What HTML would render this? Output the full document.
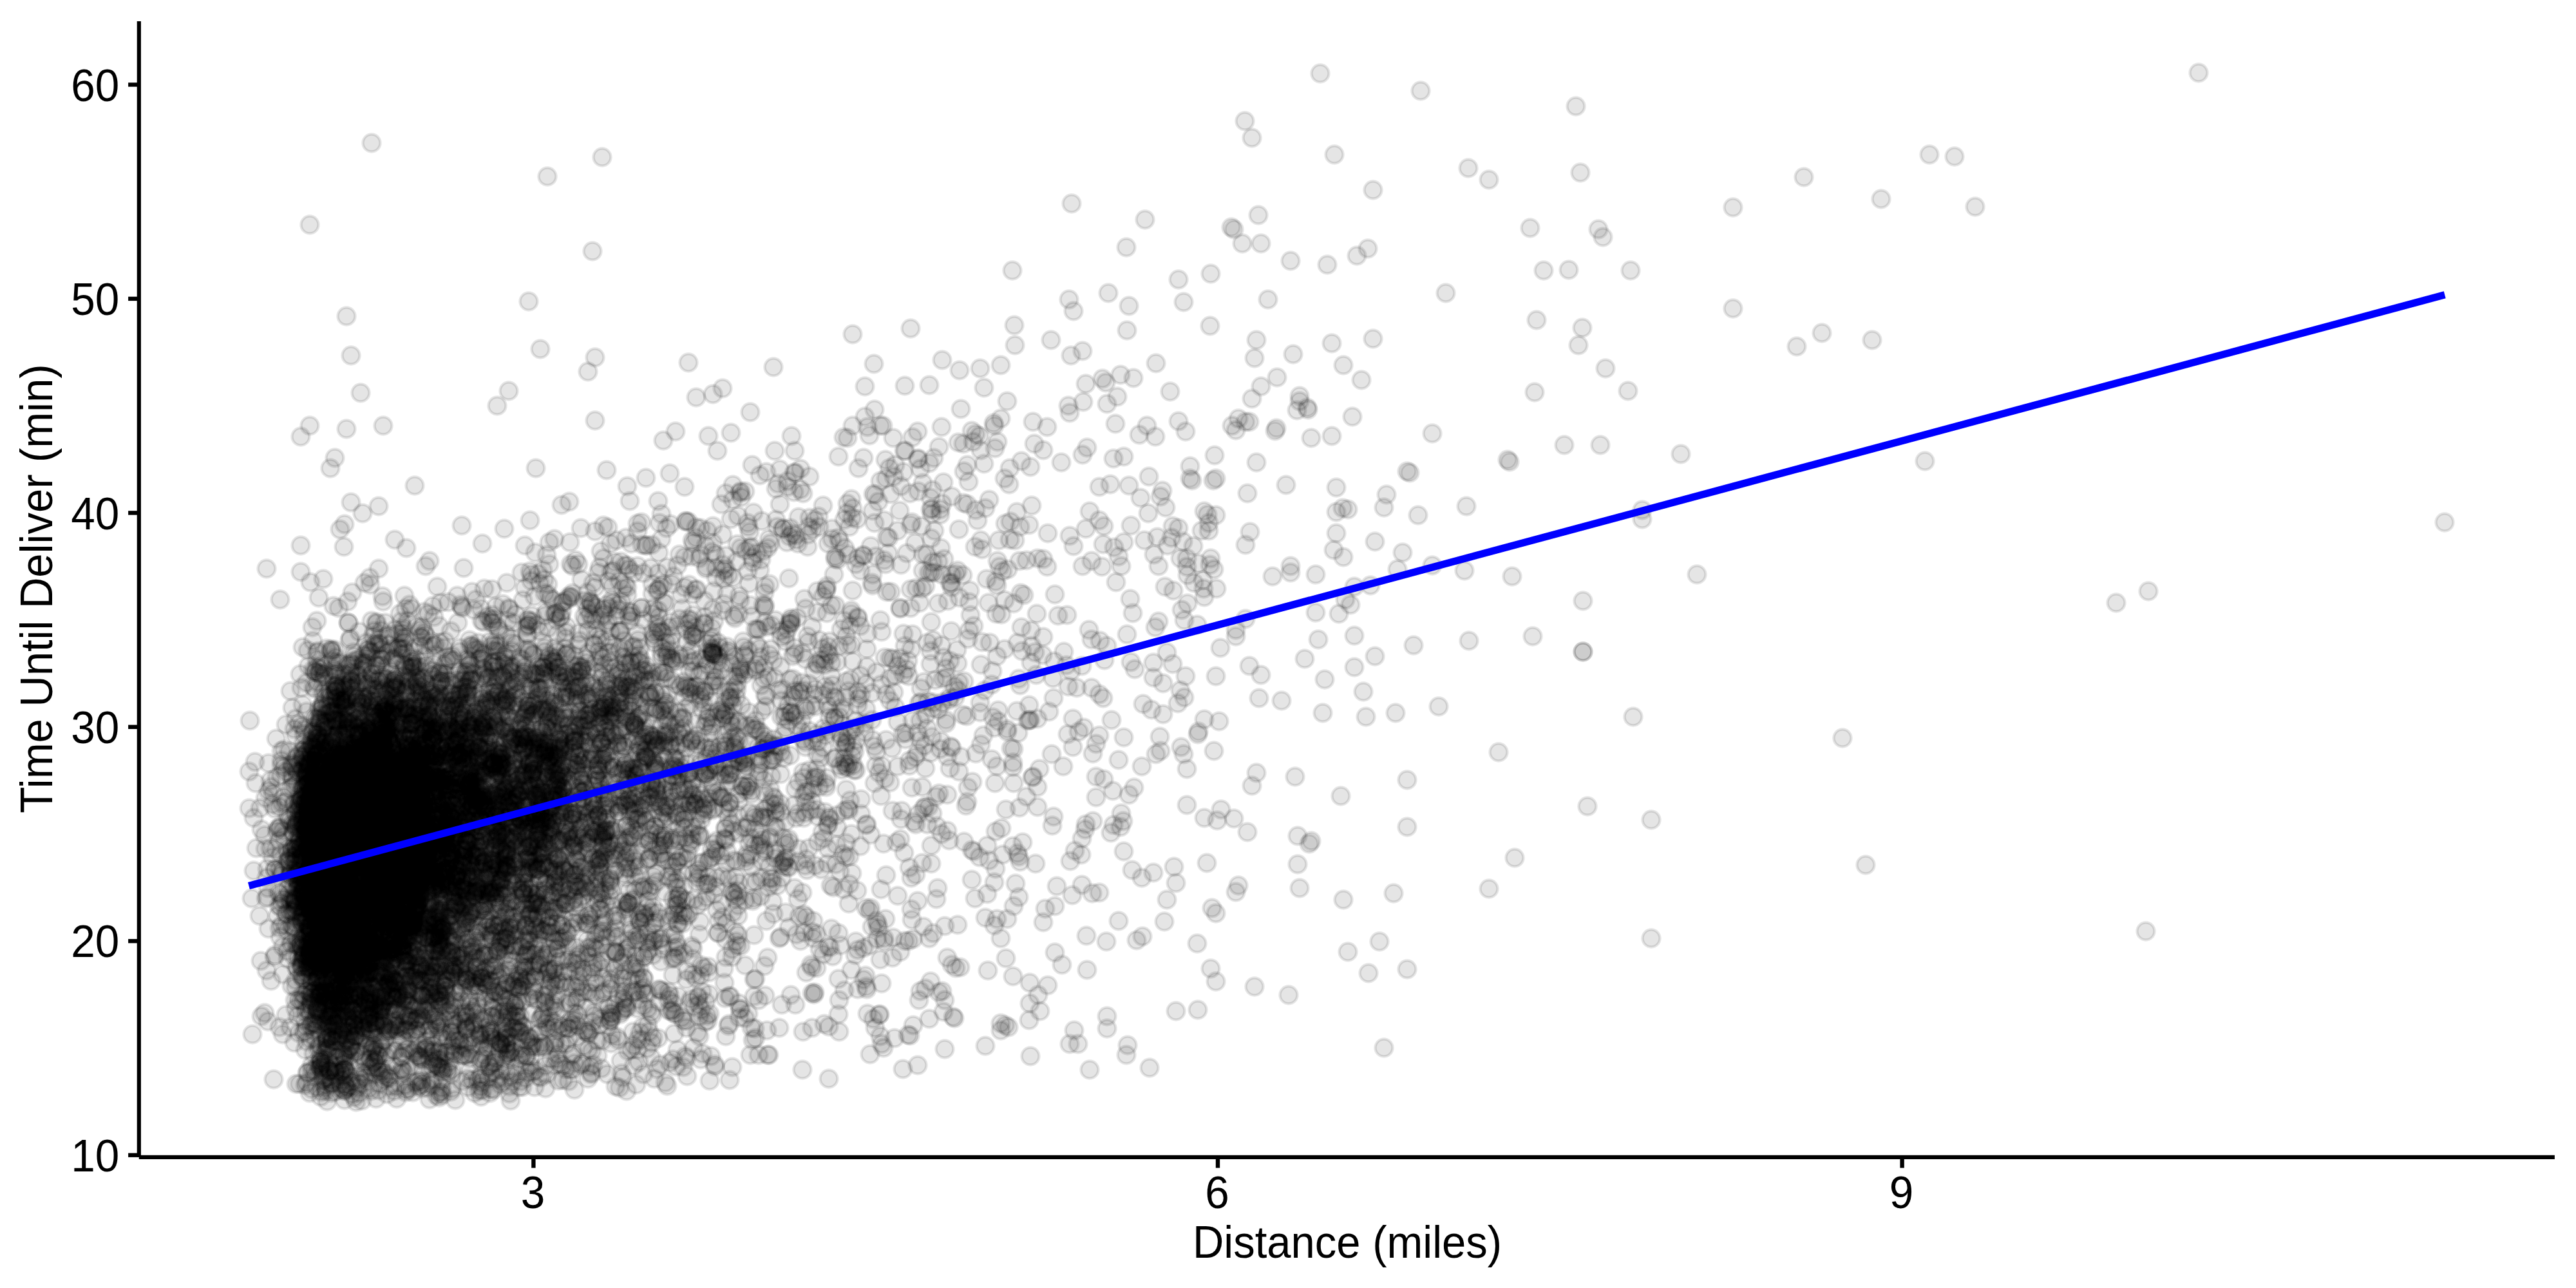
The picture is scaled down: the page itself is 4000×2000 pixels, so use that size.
<!DOCTYPE html><html><head><meta charset="utf-8"><title>Delivery time vs distance</title>
<style>html,body{margin:0;padding:0;background:#fff;overflow:hidden}svg{display:block}text{font-family:"Liberation Sans",Arial,Helvetica,sans-serif;fill:#000}.t{font-size:67.50px}.l{font-size:67.00px}</style></head><body>
<svg width="4000" height="2000" viewBox="0 0 4000 2000">
<rect width="4000" height="2000" fill="#fff"/>
<defs><marker id="m" markerUnits="userSpaceOnUse" markerWidth="40" markerHeight="40" refX="20" refY="20" overflow="visible" orient="0"><circle cx="20" cy="20" r="13.5" fill="#000" fill-opacity="0.1" stroke="#000" stroke-opacity="0.1" stroke-width="4.4"/></marker></defs>
<polyline fill="none" stroke="none" marker-start="url(#m)" marker-mid="url(#m)" marker-end="url(#m)" points="503,1233 956,1111 709,1164 506,1631 643,1508 861,1173 512,1236 604,1254 663,1259 620,1375 712,1282 865,1175 1530,789 767,1141 816,1301 568,1514 416,1586 1729,712 570,1216 575,1246 1179,1313 711,1172 639,1296 913,1118 477,1666 828,1403 597,1183 504,1530 779,1622 1359,768 750,1248 570,1224 870,1305 846,1308 544,1420 1009,1141 776,1350 802,1407 990,1630 620,1351 892,1352 1133,1191 508,1388 1053,1263 605,1123 643,1183 522,1064 819,1253 568,1459 1110,1656 562,1253 693,1292 607,1237 735,1470 532,1465 876,1509 883,1247 697,1383 1304,1353 540,1538 1056,1156 529,1474 1610,953 744,1177 729,1201 1687,1453 933,1103 938,1092 490,1243 542,1133 1075,1285 516,1239 570,1480 650,1247 1052,1470 1620,989 829,1338 681,1078 827,1150 489,1304 799,1532 595,934 715,1412 788,1269 788,1089 667,1318 688,1561 538,1349 651,1541 516,1128 675,1406 914,1109 605,1536 469,1490 670,1212 540,1506 869,1394 603,1278 600,1338 1250,1344 588,1210 644,1116 682,1284 1306,1153 694,1297 872,1343 1457,937 1035,1053 873,1222 977,884 990,825 555,1287 645,1321 586,1658 558,1415 700,1311 740,1262 709,1137 509,1293 626,1107 603,1433 828,1331 503,1383 661,1377 784,1130 582,1277 1361,1044 522,1223 564,1394 584,1077 675,1375 1390,1098 614,1359 787,1176 1154,1174 521,1312 676,1365 1142,1362 490,1351 714,1276 905,1229 1394,824 677,1283 454,1099 495,1116 614,1094 1047,1189 788,1107 610,1063 825,1293 574,1508 596,1475 901,1116 651,1272 929,1295 663,1228 526,1538 1115,1104 695,1281 1615,1570 411,1297 585,1312 907,1128 805,1234 692,1341 782,1614 1127,863 803,1029 683,1059 693,1208 785,1326 579,1064 788,1367 736,1601 932,1342 644,1192 475,1447 676,1298 1073,1068 759,1386 763,1192 604,1130 591,1149 842,1577 500,1199 1097,880 1126,1286 1590,924 1187,921 600,1305 778,1193 647,1171 779,1234 844,1046 460,1683 973,1566 622,1064 623,1425 693,1393 564,1028 1161,812 679,1162 528,1571 737,1129 1218,1113 1147,1558 518,1477 745,1145 1182,1363 538,1255 614,1428 835,1317 865,1218 630,1556 758,1674 788,1112 589,1447 771,1359 705,1565 817,1203 660,1263 583,1233 622,1088 1311,1538 534,1234 522,1617 460,1423 1059,1396 550,1388 559,1159 538,1591 724,1213 646,1379 991,1132 541,967 1132,1083 636,1388 968,1552 958,1049 1255,830 653,1204 732,1054 692,1086 535,1088 655,1293 1332,867 1247,1148 471,1267 782,1410 519,1442 520,1171 946,1289 1557,1327 665,953 601,1088 659,1261 1008,1077 876,1165 494,1381 542,1371 1100,1501 650,1341 776,1472 919,937 756,1089 860,1221 681,1386 547,1248 534,1636 457,1619 810,1275 1140,1050 548,1581 488,1556 607,1327 581,1297 635,1065 1422,1358 514,1215 1435,1059 486,1040 1398,1478 851,1271 432,1386 628,1522 797,1441 749,1243 965,934 735,1262 476,1494 1021,1218 553,1194 545,1260 770,1506 487,1325 572,1495 856,1273 717,1297 1226,1055 821,1331 569,1350 579,1363 515,1194 727,1364 856,1218 959,1421 1550,1103 502,1283 497,1302 893,1573 652,1178 618,1283 753,1581 894,1152 1583,1254 1546,903 638,1252 713,1123 540,1161 674,1454 1228,960 657,1129 1003,1276 532,1509 1150,1469 515,1011 542,1193 843,885 571,1626 514,1173 943,1316 469,1458 491,1374 1445,1011 926,1139 596,1395 1099,1258 934,1279 787,1346 671,1241 668,1114 1805,762 667,1280 720,1327 858,1274 748,1351 871,1208 596,1200 597,1097 560,1401 1018,1160 522,1307 836,1241 1745,842 1186,1258 650,1239 702,1348 587,1074 716,1279 797,1335 980,1630 552,1160 764,1193 492,1187 495,1568 513,1435 925,963 596,1462 650,1428 630,1303 540,1121 486,1271 1074,1234 584,1304 616,1488 869,1117 823,1340 601,1699 657,1146 606,1350 702,1326 718,1423 705,1511 1216,1301 1480,1579 489,1406 599,1193 597,1456 959,1153 798,1306 697,1211 503,1422 974,912 734,1526 572,1113 931,1234 483,1542 534,1314 937,1178 486,1336"/>
<polyline fill="none" stroke="none" marker-start="url(#m)" marker-mid="url(#m)" marker-end="url(#m)" points="518,1142 655,1274 832,1662 714,1168 481,1503 562,1359 827,1046 536,1152 425,1676 558,1273 1355,909 488,1662 687,1677 1251,1262 821,1665 768,1448 514,1203 653,1197 558,1217 1124,1504 1095,1587 896,1369 598,1469 949,1620 1843,1250 668,1169 510,1242 843,1036 725,1083 512,1578 788,1330 885,1380 1415,1412 603,1387 603,1251 607,1480 827,1110 934,1659 513,1379 491,1316 549,1398 860,1329 1389,1612 1853,848 496,1449 608,1153 1114,1305 656,1080 926,1359 1091,1201 663,1385 532,1310 672,1423 555,1417 963,1100 594,1104 749,1259 495,1307 533,1662 517,1212 644,1264 437,1437 937,1322 483,1463 1629,1105 663,1176 1344,1515 1199,1364 860,1230 477,1257 763,1128 457,1398 1040,1256 573,1335 877,1403 671,1358 929,1197 759,1377 1719,1578 641,1285 1061,1585 993,1192 712,1518 657,1275 620,1282 765,1336 537,1083 624,1239 766,1114 573,1183 543,1198 510,1308 962,1040 1125,1526 1017,1283 828,1501 727,1688 1141,1396 640,1407 806,1050 875,1252 1549,686 832,1259 672,1145 772,1238 548,1470 653,1395 503,1480 564,1229 566,1553 494,1218 474,1572 851,1206 514,1452 614,1083 772,1057 1001,1543 635,1332 1058,923 974,755 1053,1435 582,1365 637,1484 526,1314 711,1186 484,1172 638,1113 642,1385 416,1379 617,1525 619,1124 678,1317 653,1231 571,1336 612,1070 786,1469 572,1008 835,1350 936,1099 463,1487 543,1440 565,1595 717,1318 647,1260 698,1649 498,1422 526,1478 875,1491 803,1435 1126,1203 467,1500 597,1677 787,905 1450,711 659,1219 721,1170 466,1265 986,1361 578,1533 508,1418 1006,1380 1237,838 533,1118 1080,916 581,1260 523,1209 623,1304 540,1472 533,1209 562,1207 1131,1219 481,1412 1311,1177 629,1216 865,1334 660,1089 1445,1031 532,1467 658,1220 658,1287 581,1444 573,1511 504,1357 655,990 1010,1084 1098,824 1837,841 1641,1376 577,1097 513,1169 1021,1313 1414,915 1611,867 642,1203 667,1310 498,1205 1322,948 509,1546 519,1353 479,1440 652,1349 726,1307 673,1031 1135,1113 800,1477 756,1091 726,1076 657,1437 507,1674 763,1178 542,1287 614,1200 766,1029 723,1404 560,1547 520,1288 781,1051 843,1137 517,1192 561,1396 522,1446 734,1569 1107,946 559,1417 763,1579 756,1439 1421,843 846,1006 1367,1490 710,1486 434,1253 580,1421 868,1147 586,1410 777,1132 513,1610 766,1303 602,1428 1449,1449 497,1288 904,1301 604,1109 635,1301 578,1309 1128,1433 904,1118 574,1138 787,1664 944,1245 949,1334 491,1163 527,1109 1530,1425 564,1279 920,1169 750,1253 1114,1230 500,1286 1373,870 1125,1165 550,1398 833,1178 446,1266 1094,1074 613,1328 868,1228 946,1211 475,1422 1145,1383 509,1283 632,1498 555,1337 767,1190 535,1660 744,1282 896,1610 1602,785 566,1343 705,1310 770,1300 1314,1058 711,1197 570,1455 849,1277 757,1627 497,1534 570,1344 651,1348 526,1498 671,1320 778,1321 585,1241 1018,1223 508,1542 492,1286 829,1439 694,1571 883,1192 1377,834 660,1364 984,1060 767,1206 662,1161 656,1228 641,1407 759,1513 493,1352 771,1290 482,1255 599,1311 626,1323 696,1158 700,1518 726,1185 473,1584 865,1386 615,1401 1002,1425 680,1645 699,1076 795,998 437,1402 514,1495 504,1350 540,1383 470,1495 523,1029 641,1560 1145,1265 641,1392 553,1261 568,1129 617,1294 573,1468 639,1380 613,1310 501,1668 1120,1041 1667,848 693,1634 1247,1602 600,1281 556,1352 1345,1062 812,1025 571,1247 595,1392 791,1245 1474,1083 485,1217 1048,1488 1052,1434 544,1548 1810,788 1126,1111 846,1102 510,1321 628,1233 890,1311 687,1145 492,1371 899,1322 612,1097 545,1188 587,1489 509,1575 592,1377 465,1318 584,1172 571,1435 634,1628 584,1292 1163,1106 534,1169 604,1597 583,1144 501,1372 1016,986 871,1457 1140,1336 544,1276 577,1531 695,1493 1104,1640 1066,1585 647,1233 697,1134 960,1261 1360,1189 1089,1273 549,1511 749,1207 858,1027 767,1507 498,1507 545,1079 646,1412 864,1358 704,1025 1234,1006"/>
<polyline fill="none" stroke="none" marker-start="url(#m)" marker-mid="url(#m)" marker-end="url(#m)" points="649,1563 629,1180 1507,955 791,946 1854,905 1377,919 502,1334 726,1319 647,1403 886,1144 778,1184 733,1250 597,1429 516,1521 805,1225 487,1324 584,1033 554,1318 740,1324 803,1669 829,1183 612,1460 886,1316 779,1169 674,1235 921,1101 1702,1155 644,1234 1582,1054 744,1607 602,1314 642,1364 774,1225 576,1543 1313,1190 602,1172 745,1380 1078,1563 1008,1602 792,1044 836,1145 890,1265 712,1294 621,1317 1204,1250 526,1280 517,1363 575,1151 549,1589 1732,658 672,1510 1154,1186 686,1347 544,1451 1122,948 1145,1061 903,900 698,1366 532,1393 860,1092 534,1415 730,1254 673,1180 672,1307 533,1258 1000,1520 678,1499 809,1133 748,1343 578,1166 863,1215 606,1571 1311,807 536,1285 636,1107 605,1153 1489,822 573,1690 1171,1521 474,1483 518,1185 869,1260 725,1360 614,1599 1033,1111 544,1330 934,1226 597,1385 812,1362 983,1120 620,1330 536,1086 551,1424 553,1320 619,1145 764,1564 602,1295 1533,1388 1406,700 918,1666 943,1070 575,1493 891,1152 490,1280 469,1472 577,1140 851,1150 478,1252 601,1368 720,1331 1045,1205 694,1425 553,1219 503,1441 657,1429 965,1130 1013,1054 741,1101 532,1378 499,1503 561,1092 674,1426 741,1562 576,1262 938,1239 672,1472 904,1036 556,1334 699,1316 1161,1222 466,1467 1368,1381 716,1510 648,1267 803,1257 718,1210 742,1383 1091,1636 840,1102 627,1444 1264,1078 1465,1021 626,1237 591,1160 1212,980 1417,679 912,1361 1228,1107 1463,1539 646,1370 492,1157 624,1469 544,1422 849,1177 733,1481 1386,1023 809,1227 554,1337 654,1522 675,1368 1414,944 753,1218 580,1187 562,1414 704,1161 502,1216 633,1156 1195,1302 1288,1017 692,1442 681,1250 582,1560 714,1080 632,1494 768,1539 1503,1223 887,1264 519,1268 530,1261 810,1629 1745,709 722,1493 1026,1493 552,1610 1130,1013 629,1399 982,1446 762,1297 924,825 714,1295 802,1578 1426,763 620,1436 863,1188 1568,838 484,1447 555,1267 591,1245 702,1690 1425,1399 535,1276 573,1482 719,1177 1418,1592 893,1144 503,1281 937,816 663,1180 543,1606 530,1172 673,1280 1153,1221 541,1114 646,1333 1523,1032 593,1234 1107,817 679,1175 630,1414 898,1042 669,1678 480,1223 668,1349 507,1356 701,1376 1361,1167 689,1393 1584,1338 577,1131 542,1304 912,1308 1020,1660 481,1228 1318,1258 912,945 646,1301 599,1296 1437,1252 493,1440 788,1449 1271,802 517,1407 899,1174 903,1042 539,1389 665,1407 701,1129 491,1389 1442,1253 518,1589 824,1091 654,1168 931,1159 763,1385 506,1289 1826,1570 533,1462 1162,1279 502,1440 1082,1162 518,1423 804,1269 974,924 630,991 572,1457 799,1305 677,1389 614,1319 910,1059 725,1520 925,1345 478,1307 417,1185 937,946 978,1067 835,1297 473,1410 1471,1175 691,1538 1697,1170 1662,1337 845,1626 984,1541 1058,1249 1269,951 883,1679 496,1571 756,1595 682,1457 1707,756 550,1155 477,1374 1187,1323 736,1392 553,1389 704,1215 767,1068 582,1150 468,1242 823,1626 708,1151 501,1662 655,1678 613,1059 860,1353 727,1555 902,1105 555,1459 770,1264 568,1565 752,1249 703,1157 725,1356 1044,1303 977,1349 1844,893 546,1491 787,1527 522,1270 427,1256 630,1095 757,1399 1165,640 1027,1300 1300,1285 1115,1448 1109,1310 880,1050 524,1118 703,1104 628,1427 800,1283 1319,818 565,1375 633,1411 529,1396 1293,1485 1201,1419 1478,1498 544,1247 582,1553 1265,1541 1139,1291 512,1221 637,1432 491,1381 1007,1099 1031,1262 1403,1047 977,1325 617,1164 598,1569 777,1178 1569,810 637,1179 633,1431 1756,816 558,1697 499,1305 1332,960 666,1488 1179,1199 1260,1095 541,1199 1140,1389 1534,1507 680,1284 853,1340 469,1422 649,1679 501,1095 517,1287 491,1519 675,1500 703,1271 620,1308 838,1583 502,1052 548,1165 658,1116 939,1131 1213,989 538,1392 555,1326 904,1210 451,1073 619,1233 568,1198 673,1476 505,1259 524,1474 1587,1011 694,1161 1298,1342 1511,686 725,1272 1270,1268 616,1213 570,1203 974,1409"/>
<polyline fill="none" stroke="none" marker-start="url(#m)" marker-mid="url(#m)" marker-end="url(#m)" points="1547,953 1206,1285 846,1206 1189,1097 586,1549 720,1252 473,1520 507,1454 555,1342 506,1474 555,1308 508,1096 570,1084 622,1371 681,1337 962,980 567,1522 601,1353 1101,1107 468,1242 661,1112 462,1197 1160,1177 784,1550 637,1206 972,1115 1528,602 708,1080 632,1431 404,1255 1464,1054 918,1542 628,1242 553,1271 1457,1102 572,1359 521,1204 1205,1263 572,1412 494,1517 527,1562 554,1295 795,1261 1172,1597 522,1084 894,1133 782,1334 1102,1139 513,1438 819,1422 565,1334 534,1399 599,1302 1052,1366 985,1248 1029,1273 630,1244 531,1323 1037,1361 1287,1594 1603,1207 624,1203 721,1222 1602,1003 844,1168 937,1083 872,1291 928,1366 818,1175 485,1277 589,1352 687,1265 592,1331 708,1361 606,1182 815,847 1386,1259 464,1381 740,1242 972,835 473,1451 633,1545 966,1531 803,1211 601,1227 585,1384 479,1568 654,1158 990,1290 999,1533 836,1400 651,1099 553,1415 565,1350 530,1467 581,1113 447,1325 631,1386 927,1333 581,1312 1065,809 689,1661 929,1265 509,1346 610,1490 527,1430 518,1231 838,1160 441,1238 718,1177 1282,1217 616,1259 806,1284 517,1438 885,1587 915,1262 712,1144 1283,915 685,1434 719,1321 466,1425 993,1226 813,1483 650,1142 643,1037 1363,1435 773,1388 512,1662 678,1245 1225,1308 474,1685 414,1507 988,1539 717,1483 882,1298 694,1316 523,1092 687,1299 1055,1017 679,1081 466,1467 434,1349 895,1471 594,1400 537,1360 557,1573 1310,1381 643,1352 519,1557 532,1393 494,1303 1455,1283 629,1232 492,1146 563,1501 973,1066 1039,1152 628,1102 1545,696 579,1589 521,1373 649,1498 1032,1143 665,1335 994,1028 579,1432 806,1449 531,1481 633,1333 571,1018 893,1125 544,1197 656,1690 593,1191 1156,1047 547,1250 587,1173 831,1482 569,1445 858,1241 1844,937 593,1554 676,1450 470,1386 956,1142 598,1464 732,1216 540,1579 788,1458 653,1257 1469,1038 699,1239 567,1279 679,1211 956,1226 1177,1032 1135,806 921,1172 632,1201 701,1177 556,1173 689,1116 597,1363 686,1311 481,1184 505,1383 775,1298 619,1602 545,1210 1657,955 468,1325 1402,1139 1038,1431 394,1352 1120,783 840,1582 544,1460 805,1269 1392,1308 495,1222 1107,1064 506,1404 1023,1240 538,1496 1652,1012 481,1476 633,1577 517,1516 692,1539 544,1290 1086,1230 726,1137 448,1336 559,1676 733,1622 576,1265 505,1191 508,1347 741,1242 639,1022 550,1169 524,1453 1137,1657 500,1408 498,1455 503,1475 689,1210 474,1483 572,1498 617,1375 621,953 1029,1465 526,1590 933,856 545,1255 520,1293 469,1194 1544,1130 784,1332 749,1242 504,1252 1018,1076 815,1463 1011,1217 635,1353 535,1489 1756,1028 485,1548 736,1391 752,1054 535,1160 560,1174 609,1385 1802,1166 507,1345 1064,1100 554,1447 623,1504 490,1257 850,1098 821,1095 553,1162 478,1401 872,784 1812,1397 517,1176 688,1265 901,1380 904,1651 590,1395 701,1179 713,1616 537,1426 593,1149 941,1324 946,1110 784,1019 1240,803 918,1303 724,1466 788,1612 517,1226 485,1242 552,1396 895,1533 544,1342 1834,1160 991,1192 527,1272 676,1300 558,1401 877,1351 590,1352 605,1276 699,1559 569,1485 942,1290 732,1353 490,1429 696,1520 624,1235 1354,1439 1514,849 493,1397 905,1143 740,1501 655,1196 1190,733 763,1051 750,1084 1580,998 513,1415 601,1508 479,1485 1000,1057 1085,1299 678,1374 1011,1225 543,1411 499,1152 540,1221 506,1291 507,1235 487,1376 497,1394 511,1183 683,1215 749,1172 1387,680 859,1200 1203,1333 1434,1439 603,1093 549,1469 501,1676 1611,1222 1877,812 852,1294 979,1193 481,1249 1262,822 502,1241 969,1540 1478,1161 492,1036 526,1279 630,1692 530,1677 511,1649 594,1357 706,1463 864,1644 653,1449 696,1325 553,1598 746,1584 1372,1310 666,1288 607,1116 728,1121 856,1298 509,1583 1015,1099 1011,1237 777,1371 613,1216 532,1438 519,1197 1345,1532 996,1323 864,963 532,1194 860,1317 560,1299 659,1255 471,1484 1268,1503 586,1524 814,1492 514,1008"/>
<polyline fill="none" stroke="none" marker-start="url(#m)" marker-mid="url(#m)" marker-end="url(#m)" points="893,1376 823,1157 730,1218 604,1238 755,1249 1239,844 997,1243 938,954 628,1229 1211,729 563,1308 673,1145 628,1162 550,1266 1138,776 1231,1019 592,1081 939,1432 954,1333 1131,1010 864,1365 545,1157 757,1446 641,1198 491,1373 468,1431 1268,1450 634,1493 753,1483 478,1010 770,1580 847,1373 493,1569 983,1089 659,1251 662,1181 575,1080 491,1398 540,1451 537,1477 941,1187 744,1222 1448,1263 933,1154 795,1144 634,1162 840,1345 529,1332 865,1473 560,1423 674,1096 784,1380 546,1407 1637,1027 514,1571 1203,700 1688,1506 973,1694 629,1261 937,867 751,1509 818,1101 515,1220 681,1247 500,1149 668,1599 646,1230 946,944 475,1594 588,1135 494,1265 598,1085 463,1368 577,1629 793,1452 636,1212 610,1300 469,1274 521,1240 684,1162 912,1481 1020,1245 1006,1591 892,1359 725,1357 1096,883 486,1421 583,1419 1717,594 637,1246 691,1435 557,1191 689,1439 899,1433 697,1127 484,1150 513,1098 481,1247 824,1655 462,1470 733,1233 937,1173 560,1147 498,1329 1304,1189 790,1218 897,1352 793,1210 822,1336 498,1457 1166,1301 570,1255 737,1506 832,1626 664,1247 493,1194 704,1240 639,1331 569,1388 628,1244 701,1281 482,1475 601,1546 539,1319 655,1312 531,1544 621,1368 635,1237 526,1138 701,1469 740,1238 1311,1102 748,964 694,1027 1879,506 1799,965 666,1121 645,1178 1433,886 592,1314 994,1431 534,1368 531,1203 567,1323 656,1254 542,1345 504,1216 497,1196 1222,842 943,1137 936,1040 754,1299 696,1244 635,1691 809,1273 620,1297 1122,830 550,1704 633,964 917,1107 702,1332 886,876 866,1333 598,1397 618,1216 492,1379 1445,1169 497,1427 1303,1113 1087,1023 918,1257 1038,1540 1794,974 580,1152 559,1288 499,1457 543,1630 594,1359 880,1460 451,1360 1265,808 1194,837 1809,911 655,1131 601,1305 568,1371 556,1593 558,1185 496,1264 622,1181 474,1386 1033,1681 838,906 554,1316 907,933 1741,1263 936,1445 568,1158 731,1340 840,1173 1040,1160 607,1217 608,1415 485,1225 1086,1340 789,1073 673,1140 687,1700 1574,1216 480,1441 1251,945 570,1134 655,1146 626,1461 598,1419 700,1202 575,1250 546,1059 444,1418 580,1441 666,1366 489,1356 1134,1087 453,1322 505,1262 590,1159 796,1236 785,1440 687,1057 605,1462 484,1289 847,1148 1081,1270 563,1216 630,1352 556,1024 841,1266 851,1206 532,1507 543,1388 1286,1004 720,1113 530,1335 828,1195 1001,1309 968,1020 514,1316 501,1264 770,1196 820,1096 503,1187 664,1282 978,1258 885,1349 1082,1283 681,1310 630,1099 745,1180 834,1264 871,957 593,1452 556,1193 922,1179 1094,969 919,1351 769,1315 1136,1384 488,1115 593,1627 1702,1206 666,1405 589,1364 553,1242 466,1300 827,1189 476,1407 875,1321 482,1507 522,1388 624,1189 501,1410 1735,616 1427,1553 776,1110 835,1422 522,1296 483,1341 554,1633 650,1377 897,1575 631,1364 498,1226 528,1577 616,1547 560,1471 739,1213 1540,1063 679,1252 1658,1140 641,1306 707,1095 833,1235 918,1085 549,1661 597,1412 570,1378 567,1130 948,1087 1718,1462 450,1370 761,1268 775,1532 563,1268 986,1261 607,1139 499,1136 490,1583 800,1452 1668,1600 690,1173 1573,1184 544,1585 1065,810 583,1002 798,1596 715,939 611,1130 834,1394 794,1307 1170,1133 831,1046 587,1388 742,1190 557,1426 1388,1075 776,1385 530,1521 967,1400 900,1143 1582,1330 650,1192 521,1351 470,1520 871,1240 391,1395 631,1069 787,1062 742,1395 779,1511 683,1208 471,1409 736,1329 482,1203 1092,1254 1043,1451 1296,1114 508,1487 574,1643 536,1199 581,1220 518,1304 677,1171 967,1178 1564,1136 961,1071 643,1358 592,1566 581,1468 742,1676 795,1150 591,1421 738,1346 521,1150 947,1028 535,1093 1097,1177 1429,1149 699,1337 569,1379 492,1524 676,1001 687,1154 534,1339 971,1413 518,1301 1358,636 813,1146 778,1308 772,1128 562,1504 797,1468 600,1054 1142,1447 547,1327 869,1461 856,1253 847,1276 737,1360 562,1393 1512,972"/>
<polyline fill="none" stroke="none" marker-start="url(#m)" marker-mid="url(#m)" marker-end="url(#m)" points="570,1185 1070,1309 1327,1167 626,1431 474,1282 696,1218 1123,877 1448,1100 559,1359 985,1124 895,1272 1088,862 1011,1143 775,1002 611,1221 799,1561 704,1133 568,1151 473,1283 497,1352 494,1371 530,1560 523,1477 1106,1220 676,1230 487,1363 531,1096 980,1066 746,1518 571,1383 463,1371 596,1616 579,1278 1601,979 998,1594 914,1486 713,1319 1043,987 1148,1580 707,1602 675,1141 540,1474 974,1209 516,1313 1230,1082 827,1229 724,1262 497,1144 499,1390 494,1453 527,1496 507,1488 502,1202 1390,722 1611,1253 789,1578 849,1668 574,1543 621,1426 786,1302 564,1033 517,1481 759,1237 1465,1571 765,967 521,1066 734,1081 686,1441 600,1486 423,1331 514,1278 717,1523 860,1507 951,1097 960,1615 1022,948 537,1339 553,1219 605,1457 813,1187 529,1093 542,1110 731,1432 621,1189 1870,1117 484,1344 504,1122 646,1210 854,1425 634,1349 662,1426 732,1636 799,1054 641,1696 794,1154 515,1315 578,1229 729,1277 597,1326 832,1443 884,779 880,1239 579,1269 625,1261 804,1534 1233,1112 1055,1142 780,1601 846,1172 480,1289 608,1131 1476,1159 828,1665 820,971 1115,1192 480,1451 779,1364 616,1421 607,1442 506,1141 542,1564 892,1358 1460,799 486,1263 713,1614 563,1570 742,1363 544,1261 1290,1375 593,1247 762,1416 616,1050 812,1054 798,1181 576,1312 461,1217 434,1441 561,1250 892,1692 674,1234 575,1427 671,1455 822,1185 866,1353 594,1426 834,1265 478,1217 627,1664 777,1322 1038,1552 1458,1541 835,1211 824,1313 626,1433 634,1303 1299,1266 592,1622 553,1188 981,951 653,1290 622,1519 1302,1449 496,1420 505,1479 687,1248 482,1348 1166,1328 1557,887 565,1167 1099,1585 685,1477 619,1005 1205,759 1307,1195 520,1148 728,1421 1415,1008 1066,1186 833,1224 465,1347 495,1502 944,819 943,1143 1851,746 591,1420 686,1379 563,1297 505,1379 811,1282 815,913 495,1265 702,1322 1054,1286 898,1071 456,1331 550,1335 520,1316 642,1164 639,1440 523,1534 583,1148 1056,1227 948,1573 1403,733 606,1434 964,1647 536,1493 589,1218 601,1297 570,1448 539,1322 1284,952 628,1421 834,1232 816,1460 815,1502 1223,977 560,1464 1460,791 1055,1115 524,1200 599,1250 798,1347 648,1407 898,1376 492,1273 864,1303 794,1342 886,1559 524,1230 1475,1193 603,1281 782,1570 481,1448 491,1182 700,1695 1213,1088 795,1309 489,1442 469,1472 617,1541 1168,722 889,1495 858,1231 1024,1556 598,1297 573,1202 490,1307 1880,1504 504,1254 1100,677 499,1493 729,1178 1136,1147 700,1078 711,967 668,1370 1598,1584 812,1203 1426,1264 1070,908 547,1571 904,1229 679,1467 704,1345 1744,1275 784,1600 614,1414 652,1192 805,1534 538,1665 487,1525 604,1252 769,1649 645,1238 943,1079 560,1412 512,1569 714,1071 836,1449 645,1261 491,1116 626,1272 817,1253 592,1403 1029,1474 791,1128 558,1313 519,1065 683,1548 1048,1321 884,1179 753,1606 485,1211 733,1265 915,1136 576,1313 627,1361 504,1490 662,1062 560,1250 682,1400 498,1232 572,1479 510,1143 889,1051 1387,1456 838,1408 622,1303 727,1243 471,1423 1063,865 644,1099 841,1078 632,1537 559,1383 479,1350 725,1203 672,1376 453,1223 520,1234 1399,877 837,1293 545,1400 597,1356 782,1030 1028,1020 515,1351 776,1378 700,1423 828,1348 507,1175 598,1344 768,1302 687,1208 618,1248 680,1464 1030,1044 883,1277 507,1364 785,1353 486,1237 853,1565 913,1675 560,1355 667,1133 770,1268 935,1449 1127,1459 577,1633 895,1322 495,1483 552,1193 1022,1195 1546,1349 626,978 912,1041 602,1673 696,1351 513,1391 637,1337 781,1350 1527,1142 1158,1227 542,1124 491,1576 490,1386 590,1469 847,1246 947,1392 584,1270 528,1404 570,1481 710,925 624,1180 570,1255 568,1464 587,1173 638,1516 592,1388 797,967 586,1201 506,1586 496,1369 1745,1322 604,1193 481,1574 649,1411 474,1187 548,1506 537,1446 584,1212 525,1416 534,1247 447,1489 642,1312 1015,944 914,1119 633,1438 1203,1283"/>
<polyline fill="none" stroke="none" marker-start="url(#m)" marker-mid="url(#m)" marker-end="url(#m)" points="579,1186 494,1211 1061,1218 1535,936 483,1310 604,1187 474,1293 774,1036 991,1027 504,1674 850,1131 672,1192 526,1136 553,1204 542,1453 540,1151 676,1260 492,1301 609,1547 865,1012 498,1657 541,1174 801,954 779,1133 643,1636 846,1166 747,945 825,892 1024,1327 841,1428 1064,1147 622,1594 988,1684 865,1545 456,1250 668,1192 1228,1545 626,1311 595,1050 986,1256 589,1170 806,1253 736,1211 478,1665 508,1164 573,1209 853,1177 1233,1250 899,1229 510,1224 799,1339 923,1577 633,1469 544,1215 667,1078 628,1458 588,1568 466,1288 874,1227 777,1619 615,1497 545,1626 867,1152 1316,1192 846,1291 872,1124 608,1279 1108,918 1859,1465 721,1335 853,1598 510,1266 494,1628 784,1103 590,1172 724,1638 482,1487 695,1477 817,1250 865,1198 470,1336 496,1298 948,1585 1134,1201 1171,1547 682,1634 581,1361 987,1461 594,1370 1406,1148 659,1537 464,1408 472,1140 1201,1158 577,1369 535,1070 495,1548 1438,1110 448,1272 949,1528 917,1599 1042,1156 1239,1338 837,1509 544,1242 1741,879 1188,911 879,1115 538,1219 515,1148 891,1317 676,1286 1006,1566 810,1314 589,1355 678,1654 964,980 633,1330 478,1427 617,1113 869,1651 707,1337 999,1425 862,1038 730,1662 851,1024 531,1329 514,1181 619,1263 559,1346 953,1191 544,1288 490,1238 630,1376 596,1223 629,1249 633,1285 1182,869 767,1437 1548,1019 1045,1396 1200,1181 602,1080 1085,1363 971,1023 776,1433 504,1128 1465,749 556,1430 1107,1041 877,1238 682,1704 847,1347 566,1430 489,1396 996,1218 613,1282 482,1558 615,1552 820,1314 923,1001 948,1376 536,1266 469,1166 1248,1270 645,1251 516,1436 1041,1204 503,1186 1005,1628 817,1107 538,1399 1172,1264 1268,1257 505,1204 649,1324 656,1054 614,1245 1579,1104 626,1329 802,1340 1261,1596 1157,763 722,1185 1466,868 628,1077 874,1304 496,1184 605,1529 579,1400 705,1361 493,1245 515,1535 675,1272 1627,828 1329,1196 681,1269 840,1326 569,998 544,1625 496,1286 514,1409 926,1138 568,1255 510,1596 649,1363 539,1466 648,1386 789,1255 1185,939 646,1372 821,1548 627,997 1022,975 653,1239 624,1343 1280,1032 627,1239 1124,1257 715,1228 781,938 641,1425 638,1036 1050,1063 505,1535 1454,1396 728,1258 868,1212 890,1636 477,1312 976,1195 935,1051 1427,1092 558,1361 989,1272 906,1541 732,1157 919,940 554,1254 631,1173 699,1446 1375,876 839,1281 1020,1228 874,1188 992,1237 944,1271 806,1318 702,1511 519,1472 672,1308 1064,1069 1579,795 534,1531 811,1688 576,1450 721,1346 721,1409 592,1330 1136,1279 764,1460 553,1399 561,1234 675,1475 499,1336 1001,1419 864,1124 502,1272 493,1254 646,1332 553,1239 640,1436 660,1629 1019,1102 669,1354 483,1400 967,1673 920,962 960,1155 839,1488 539,1121 586,1509 550,1603 701,1204 871,1235 485,974 792,1440 551,1228 1004,1215 1181,1020 689,1266 480,1209 494,1375 874,1677 554,1414 670,997 983,1149 976,1096 749,1191 669,1146 600,1344 1149,1183 601,1602 1515,792 640,1430 720,1395 644,1229 682,1469 927,978 861,1462 497,1308 436,1359 729,1200 567,1449 925,1546 476,1275 557,1189 711,1230 886,1105 601,1439 663,1323 570,1349 597,1290 736,1250 506,1121 724,1219 1088,1081 606,1237 996,1615 862,1006 648,1361 502,1259 684,1436 570,1084 1050,1159 683,1324 817,1607 936,1519 1368,1063 794,1578 615,1416 529,1225 977,1072 508,1328 484,1319 929,1268 861,1334 605,1687 1034,1095 1205,807 611,1382 479,1461 622,1171 605,1287 801,1444 979,1121 711,1290 548,1081 658,1566 582,1271 601,1108 506,1541 686,1292 758,1189 530,1294 512,1356 505,1500 639,1264 1247,1199 477,1245 480,1500 973,1480 580,1308 667,1537 879,1199 563,1601 1808,1431 601,1013 647,973 1838,1171 681,1453 540,1287 558,1464 1025,1313 599,1189 584,1262 458,1285 468,1515 518,1310 670,1133 484,1312 667,1112 570,1279 1149,765 680,1134 885,1306 590,1257 535,1323 775,1232 497,1197"/>
<polyline fill="none" stroke="none" marker-start="url(#m)" marker-mid="url(#m)" marker-end="url(#m)" points="658,1259 982,1288 534,1318 851,1118 545,1316 832,1335 631,1035 601,1547 496,1659 748,1127 499,1343 749,1485 648,1308 1034,1297 628,1576 584,968 822,1612 503,1483 534,1275 510,1297 943,1057 520,1359 770,1305 558,1548 712,1483 912,1135 751,1016 979,1268 860,1560 727,1069 764,1578 759,1351 523,1642 558,981 684,1292 540,1689 629,1483 679,1242 740,1132 851,1438 648,1215 581,1305 537,1505 1056,1066 1437,910 920,1587 578,1382 980,844 612,1242 544,1286 629,1336 459,1177 505,1645 695,1340 1386,1487 1614,1194 796,1116 396,1183 993,1156 484,1466 898,1182 868,1493 508,1495 866,1169 663,1541 956,1687 762,1235 518,1494 1288,1072 844,1446 623,1641 642,1263 1303,1004 710,1392 627,1493 562,1325 639,1399 516,1461 1007,1081 1172,1312 642,1241 737,1234 572,1351 853,1236 815,1036 906,1204 531,1444 709,1376 581,980 716,1057 985,1215 563,1408 714,1382 1066,1596 967,1229 504,1216 581,1457 726,1210 629,1492 611,1393 750,1329 495,1549 631,1226 1278,926 730,1509 870,1061 930,1353 1225,1440 499,1437 496,1171 573,1152 492,964 746,1273 905,1305 909,1193 634,1537 563,1294 1540,1179 967,1060 991,1459 663,1322 502,1322 1469,1118 507,1370 675,1408 825,1413 992,1427 667,1341 770,1167 606,1346 1017,1075 529,1388 736,947 577,964 1095,1074 507,1627 552,1501 1316,680 869,1528 743,1177 831,1219 570,1066 821,1316 588,1235 600,1321 746,1282 639,1268 1257,804 563,1169 547,920 858,1130 482,1440 533,1608 885,1136 479,1329 509,1210 829,1551 482,1483 521,1180 851,975 591,1403 759,1153 1213,1113 845,1383 592,1324 777,1177 1322,775 1036,1141 646,1374 1323,1174 1212,1455 612,1499 674,1271 612,1392 1286,1280 1128,1341 513,1300 955,1560 675,1457 753,1527 1082,1156 562,1237 822,1187 597,1268 732,1364 786,1420 722,1327 612,1263 653,1505 1085,1296 590,1297 537,1361 544,1503 567,1673 1888,1418 520,1588 927,1616 705,1263 1132,1590 515,1145 556,1049 1075,1217 741,1315 918,1470 651,1438 493,1497 515,1201 519,1303 1490,575 672,1286 1091,1400 1398,945 480,1317 825,902 642,1504 1111,1189 763,1350 955,1353 866,1474 587,1639 776,1376 1264,1041 1063,912 1035,1210 559,1167 816,1161 652,1397 1765,1460 531,1558 1740,1284 1446,1341 459,1414 533,1266 889,879 697,1372 532,1483 1031,1306 923,1461 660,1239 1203,1053 577,1495 752,1315 720,1320 846,1172 568,1621 611,1352 554,1497 842,1619 498,1110 713,1242 787,1217 903,1230 490,1349 724,1214 488,1416 1285,1282 421,1523 994,1253 642,1369 620,1463 592,1008 475,1323 743,1206 654,1223 683,1448 648,1464 1054,1419 1167,1596 468,1369 595,1257 692,1150 406,1288 683,1126 521,1312 1769,675 942,1335 727,1226 807,1236 1003,1274 764,1380 1573,1191 489,1671 714,1012 488,1466 740,1256 782,1237 765,1342 749,1348 452,1317 514,1227 643,1414 1010,1081 592,1146 844,1342 1078,1247 818,1245 536,1308 509,1313 735,1387 1038,1336 691,1307 458,1315 566,1322 633,1491 439,1606 474,1307 618,1325 518,1506 957,1479 604,1563 1068,1325 585,1327 840,1234 732,1325 666,1557 528,1322 521,1664 1333,1085 610,1297 1458,1232 533,1198 758,1531 831,1272 979,1284 544,1377 873,1208 500,1225 1663,552 517,1298 670,1358 1543,657 598,1556 695,1658 660,1317 770,1255 775,1573 577,1477 471,1271 719,1536 1149,932 799,1345 1685,1288 517,1585 553,1287 1104,1170 444,1576 566,1166 472,1415 927,988 559,1165 839,1602 790,1280 767,1664 1252,1334 623,1271 685,1381 878,1404 495,1505 735,1352 1205,1325 637,1379 986,1272 1117,1065 1142,1163 654,1642 503,1129 824,1065 734,1252 716,1638 799,1261 542,1426 488,1225 1062,1272 630,1383 1478,912 1069,1261 1251,1229 938,1125 1600,725 460,1407 660,1200 1017,1450 713,1077 994,1603 746,1324 524,1223 1425,1169 810,1555 653,1644 853,876 1426,712 751,1376 628,1376 651,1167 1003,1140 501,1371 550,1208 658,1584 845,1056 574,1559"/>
<polyline fill="none" stroke="none" marker-start="url(#m)" marker-mid="url(#m)" marker-end="url(#m)" points="623,1375 625,1322 851,1271 439,1396 739,1307 1412,1181 810,1381 853,1401 718,1407 534,1173 1195,907 511,1073 941,1129 894,1194 536,1258 1269,918 864,1021 492,1248 547,1250 539,1234 512,1303 602,1376 1172,1269 675,1455 544,1473 717,1341 732,1345 468,1251 491,1170 865,1219 1304,1139 738,1189 945,1316 492,1247 586,1261 699,1268 689,1582 591,1320 480,1540 655,1199 1456,1379 821,1353 933,1581 1573,1516 962,1115 1278,1161 550,1544 1296,1115 637,1238 500,1349 550,1215 1069,1067 1200,1237 1108,1114 1119,1238 1866,824 630,1493 477,1281 487,1600 816,1159 616,1070 533,1492 545,1029 552,1073 606,1534 1560,743 851,923 597,1287 777,1621 1011,1572 555,1545 854,1175 681,1208 1635,1053 518,1269 698,1421 732,1415 1051,1212 823,887 1388,740 746,1674 558,1353 771,1367 570,1009 552,1308 539,1032 682,1206 569,1029 553,1265 973,1281 688,1354 935,1396 835,1553 1069,1205 1257,740 607,1418 976,1227 829,1163 811,1116 1024,1458 796,1083 1888,1050 1177,1204 1088,1183 1248,1072 1246,1014 1214,1363 952,886 747,1260 909,1079 565,1276 705,1227 575,1426 590,1147 805,1097 960,939 684,1275 493,1254 847,1201 654,1380 812,1198 546,1441 729,1130 547,1191 677,1075 603,1325 601,1483 1021,1234 536,1613 682,1697 1105,1319 565,1176 574,1565 719,1625 491,1474 845,1220 535,1299 1163,1309 1835,947 517,1527 482,1358 774,1412 483,1504 492,1592 545,1392 1013,1322 783,1154 493,1059 529,1414 984,1050 765,1187 699,1024 864,1202 911,1379 485,1487 611,1552 522,1481 1084,1547 782,1246 724,1160 1028,1006 818,1477 608,1280 496,1544 666,1526 1117,1005 473,1307 1449,1091 664,1241 619,1279 718,1405 1025,910 1302,709 914,1435 472,1249 1859,970 801,1390 556,1682 507,1169 756,1261 577,1313 944,1013 1273,1474 746,1447 1399,755 478,1486 638,1222 526,1188 501,1228 715,1622 1067,1334 639,1439 549,1497 934,1170 774,1477 703,1332 565,1273 1264,1544 652,1130 658,1217 1406,1138 646,1126 568,1380 1188,966 701,1286 1053,1197 675,1474 911,1601 765,1030 550,1221 486,1326 741,1574 607,1496 733,1002 750,1180 1893,1120 634,1220 749,1389 561,1535 773,1199 499,1313 594,1207 1144,1071 437,1188 506,1384 578,1385 925,1029 625,1214 1078,1397 567,1219 431,1286 826,1625 512,1233 909,1277 661,1626 568,1554 732,1215 776,1350 1110,1178 634,1400 674,1323 585,1484 533,1652 1719,627 573,1287 512,1259 550,1340 589,1108 1073,1551 1081,819 997,846 671,1685 1044,1355 690,1298 612,1246 496,1046 1484,1503 1101,1510 947,1363 596,1165 469,1237 660,1122 509,1629 811,1385 721,1380 449,1337 551,1154 775,1371 819,962 755,1528 507,1232 875,1103 590,1469 528,1082 999,1562 674,1222 473,1394 527,1274 936,1293 887,1549 1134,1547 650,1157 727,1308 846,1161 1126,1303 586,1386 475,1430 640,1283 779,1171 516,1379 675,1355 563,1526 945,902 726,1675 700,1278 464,1236 500,1352 638,1344 677,1206 597,1668 511,1378 701,1386 676,1424 805,1193 910,1377 1106,1230 697,1350 858,1278 1157,1020 653,989 909,1180 576,1387 539,1252 1140,1160 895,1334 646,1486 874,1654 990,1566 694,1274 931,1592 1394,1391 1119,1203 796,1173 1132,1135 643,1283 660,1125 451,1356 457,1396 1484,891 1170,796 554,1085 634,1217 574,1012 740,1385 798,1146 501,1234 541,1399 657,1139 633,1312 568,1456 536,1413 578,1231 482,1187 664,1172 758,1170 942,1455 514,1509 582,1280 809,1537 547,1174 1316,1143 767,1286 677,1417 1279,1302 941,1172 888,1583 485,1135 1719,1597 517,1196 925,1205 527,1387 990,813 431,1422 497,1453 498,1319 542,1281 476,1168 526,1641 1026,1426 1138,753 779,1048 628,1231 795,1492 856,1391 664,1325 494,1652 446,1445 531,1418 1382,1053 812,1311 752,1225 677,1590 930,1284 676,1269 1252,1103 551,1350 760,1242 739,1223 840,1230 1437,1535 632,1362 826,965 485,1399 600,1204 590,1572 1270,1032 596,1223 916,953 520,1168 635,1425"/>
<polyline fill="none" stroke="none" marker-start="url(#m)" marker-mid="url(#m)" marker-end="url(#m)" points="578,1102 457,1132 743,1290 1708,995 566,1159 576,1057 1325,1188 1560,932 1210,1596 763,1387 634,1383 940,1383 832,727 888,1302 548,1567 527,1382 1092,1339 520,1009 861,1385 624,1441 791,1301 661,1511 1525,853 934,1097 1182,1064 460,1383 760,1120 503,1637 564,1081 1367,963 852,1182 891,1433 615,1408 1192,851 745,1364 858,1183 514,1368 466,1333 1014,1247 643,1006 854,1114 671,1042 526,1120 1117,1235 420,1317 680,1260 903,1040 524,1252 665,1354 572,1514 502,1500 919,1290 623,1382 889,1661 596,1257 556,1202 542,1561 932,1148 702,1480 723,1146 706,1305 455,1191 1454,1237 835,1424 739,1304 550,1329 596,1330 1087,1150 828,1299 583,1228 962,902 743,1108 626,1614 542,1168 562,1340 631,1629 815,1042 712,1227 530,1367 609,1164 499,1367 628,1268 682,1224 693,1047 729,1031 516,1615 869,1197 1032,1303 1278,1079 1280,1024 1180,885 709,1459 675,1544 564,1226 633,1351 566,1185 676,1083 1443,598 745,1490 456,1417 612,1694 996,944 555,1689 881,931 510,1291 590,1000 948,1366 916,935 789,1401 483,1347 558,1465 682,972 535,1568 641,1395 838,1498 796,1370 600,1435 874,1052 578,1212 548,1454 498,1648 1143,1083 520,1073 644,1332 581,1394 634,1455 480,1263 1062,1241 628,1309 602,1220 513,1298 929,1211 511,1315 772,1446 611,1316 533,1048 645,1178 595,1204 481,1408 880,1207 1686,596 1695,993 883,1469 1620,699 776,1260 602,1477 725,1066 660,986 1015,1183 1149,1046 599,1432 593,1233 575,1225 661,1324 567,1264 481,1276 548,1325 651,1329 593,1225 772,1198 1216,1339 787,1093 683,1416 668,1564 737,1363 627,1566 520,1352 1582,1393 614,1067 825,1203 1443,719 552,1609 565,1157 536,1236 802,1059 546,1158 550,1517 723,1399 529,1509 551,1219 768,1170 1598,815 634,1359 405,1492 691,1532 468,1496 533,1118 465,1385 598,1527 693,1364 913,979 1501,1112 572,1360 587,1149 730,1386 1086,1578 670,1410 833,1392 1021,1295 547,1155 535,1590 489,1190 524,1068 584,1706 532,1142 763,1609 713,1133 990,1144 695,1280 527,1257 634,1536 1561,1592 803,1233 1134,1030 1033,1044 570,1062 566,1500 730,1223 656,1108 776,1186 1054,1390 582,1648 1246,1661 1505,935 523,1360 780,1592 1193,1270 531,1225 784,1226 816,1440 846,1624 505,1689 503,1465 1234,1073 479,1187 588,1307 618,1479 672,1234 1585,921 662,1569 1188,940 483,1235 1074,1150 1025,1537 607,1368 1376,1149 547,1194 523,1260 853,1580 792,1258 941,1276 599,1164 612,1253 1192,1487 836,1163 564,1243 619,1191 601,1343 1795,564 744,1245 720,882 655,1250 809,1083 619,1222 643,1201 520,1280 1025,1269 1100,1361 724,1238 819,1261 542,1343 514,1105 1044,1024 589,1575 610,1520 626,1374 1661,832 1243,1076 698,1479 594,1146 469,1321 676,1207 1014,1483 1286,1470 546,1350 734,1296 568,1540 630,1109 1497,1307 530,1490 1437,1193 482,1212 484,1691 591,1569 958,1066 883,1383 1049,1195 952,1000 619,1482 640,1261 640,1569 1020,1217 547,1254 987,1337 549,1342 859,1410 836,1211 1150,763 833,1351 932,1100 753,1181 1896,1257 858,1172 1003,742 862,1029 545,1403 602,1147 654,1177 880,1447 1091,1103 605,1331 646,1320 492,1281 1045,1558 1636,1084 543,1426 1336,1314 710,1225 558,1279 619,1444 1106,1125 569,1037 1005,1177 684,1589 1026,1252 527,1029 1155,1184 592,1184 476,1539 618,1403 585,1427 500,1413 582,1193 942,730 757,1255 667,1660 552,1067 1097,1121 454,1280 753,1428 474,1266 510,1407 999,1668 923,1257 784,1033 639,1519 1376,1078 623,1445 698,1353 623,1660 529,1309 782,1539 590,1371 445,1420 631,1516 613,1022 515,1237 637,1445 471,1460 608,1381 546,1443 492,1520 515,1192 627,1161 880,973 1006,1238 484,1173 691,1490 491,1351 1042,1306 530,1444 588,1639 1112,897 477,1166 717,1451 517,1537 539,1129 652,1199 755,1202 595,1267 624,1642 897,1293 1355,793 500,1448 603,1635 525,1107 492,1130 1157,1179 612,1194 556,1311"/>
<polyline fill="none" stroke="none" marker-start="url(#m)" marker-mid="url(#m)" marker-end="url(#m)" points="598,1137 508,1273 520,1195 759,1163 735,1572 479,1402 901,1421 628,1295 602,1231 492,1597 994,1432 633,1097 563,1248 417,1228 966,1158 596,1593 479,1475 621,1427 722,1046 629,1306 533,1063 577,1175 686,1689 456,1294 492,1495 1297,868 1288,1272 698,1112 547,1257 685,1083 568,1342 633,1157 1162,1155 659,1256 1421,1176 689,1251 479,1468 1425,1654 666,1094 1059,1355 526,1309 775,1437 702,1416 473,1212 778,1239 849,1080 603,1512 665,1426 492,1013 1178,1553 582,1111 734,1207 734,1224 1094,1373 787,1345 517,1447 823,1200 698,1225 1121,1116 1076,1473 433,1406 552,1534 734,1327 586,1476 473,1325 1036,1016 1573,1314 537,1476 875,1456 616,1325 1681,706 593,1563 684,936 880,1016 627,1588 1195,1181 598,1495 611,1478 1263,1457 576,1655 1013,982 479,1359 1350,676 521,1339 480,1514 836,1385 696,935 1783,797 780,1230 609,1087 718,1638 649,1285 1523,699 742,1556 673,1146 1092,1264 670,1357 643,1238 485,1359 1457,872 519,1656 614,1257 489,1355 673,1436 530,1362 716,1554 1201,1025 607,1349 1307,1145 488,1247 1095,1024 663,1105 1216,1142 1204,1320 836,1605 563,1459 973,1068 527,1219 680,1140 1328,1483 1400,1259 843,1304 406,1578 680,1061 1461,851 1090,1072 478,1216 531,1423 566,1265 650,1291 1014,1408 888,1271 824,1161 699,1211 1346,1536 677,1267 579,1569 680,1584 534,1140 677,1531 1471,1234 485,1351 638,1169 541,1365 449,1414 517,1233 689,1445 568,1544 1281,1261 710,1132 612,1270 542,1274 854,1188 769,1081 815,1284 672,1312 947,1369 536,1358 1272,1222 642,1295 971,1190 914,1297 866,1211 1478,771 894,1094 774,1076 723,1526 592,1463 832,1086 1249,1448 477,1261 684,1362 636,939 906,1511 572,1579 550,1424 1060,1330 983,1301 1745,1145 838,1497 514,1453 496,1540 502,1445 567,1495 573,1343 582,999 1254,988 1075,988 558,1462 474,1364 1019,1356 1759,952 1102,1574 573,1403 621,1131 656,1096 1106,1013 478,1234 615,1526 511,1348 914,1091 490,1419 846,1308 937,1251 552,1220 983,1348 572,1589 596,1415 578,1435 882,1125 1016,1461 702,1328 674,1348 1888,800 575,1573 950,1290 640,1187 602,1272 531,1552 520,1336 772,1541 853,1018 464,1245 646,1566 733,1677 654,1500 597,1402 489,1043 1109,1389 514,1087 551,1236 594,1310 535,1510 482,1458 549,1173 467,1346 639,1287 687,1469 545,1278 665,1252 640,1123 1181,1268 832,1230 1041,997 501,1581 636,1561 522,1578 790,1163 1860,1140 550,1383 1477,905 745,1609 498,1624 665,1322 801,1522 1034,997 1367,661 691,1285 669,1501 1235,1560 773,974 798,1091 533,1344 619,1564 571,1411 1138,1194 483,1524 746,1480 979,1028 522,1592 561,1195 568,1511 675,1124 494,1405 710,1270 460,1277 891,1150 491,1230 717,1193 1079,1250 552,1647 811,1420 499,1652 632,1454 1088,1515 851,1121 1081,1123 644,1176 1707,1142 1031,1312 564,1208 1003,1120 766,1379 1608,1341 748,1297 708,1204 888,1265 938,1329 742,1183 610,1323 717,1170 539,1163 1715,1025 649,1607 589,1305 1261,1502 961,1309 786,985 702,1089 773,1437 531,1066 751,1121 757,1112 564,1084 1472,933 1606,689 1220,1417 1162,1040 794,1262 1088,1645 579,1225 618,1415 951,1115 806,1587 646,1412 481,1398 642,1111 549,1521 838,1223 840,1155 708,1217 1025,1653 724,1521 631,1414 520,1422 528,1160 601,1534 866,1460 595,1383 1034,1243 660,1336 1049,670 1089,1499 542,1255 996,811 792,1634 527,1548 1161,887 669,1299 820,1227 638,1250 659,1138 1138,1417 674,1509 543,1247 1495,893 602,1035 750,1037 673,1438 561,1345 792,1037 1423,913 788,1636 1588,1308 632,1208 412,1239 537,1171 837,1281 434,1286 648,1157 585,1303 901,1104 618,1420 1843,867 555,1334 1408,859 840,1228 1256,818 1040,1138 820,1138 505,1590 451,1331 699,1304 1414,510 1512,1322 705,1633 845,1049 1412,1189 1633,1171 456,1377 552,1293 532,1570 724,1284 694,1522 836,1082 970,1159 576,1557 838,1153 539,1286 548,1375"/>
<polyline fill="none" stroke="none" marker-start="url(#m)" marker-mid="url(#m)" marker-end="url(#m)" points="631,1379 512,1160 567,1208 1343,647 494,1275 950,1288 608,1385 1784,740 822,1381 582,1470 1176,977 1074,1469 632,1503 699,1410 1322,1506 1332,1074 470,1289 627,1484 1315,797 618,1202 505,1537 1248,1208 557,1490 834,1439 730,1562 743,1290 1812,1013 749,1390 669,1214 478,1344 598,1210 855,1286 806,1518 629,1150 553,1486 497,1122 498,1648 861,1137 735,1592 911,1435 844,1316 990,1614 647,1599 543,1482 575,1355 926,1204 1022,890 588,1155 709,1485 519,1434 453,1464 760,1154 681,1501 572,1525 1014,1611 461,1428 674,1548 788,1319 867,1333 729,1420 822,1462 975,1403 716,1502 656,1335 520,1172 601,1195 990,1116 639,1605 610,1111 574,1599 620,1214 761,1282 790,1344 557,1583 951,1407 459,1533 577,1106 790,1058 660,1272 1065,1064 1196,1299 1073,963 837,1249 716,1584 498,1456 999,1381 539,1395 861,1626 902,1258 692,1553 724,1290 1503,992 648,1486 575,1240 702,1631 948,1256 820,1458 454,1395 710,1153 533,1470 1570,1162 1165,940 569,1283 570,1150 635,1257 668,1518 811,1346 1826,1371 582,1435 453,1415 587,1391 658,1309 485,1323 643,1323 871,1621 908,1601 475,1235 723,1274 652,1091 586,1278 739,1208 527,1503 1425,670 682,1420 502,1322 497,1443 546,1233 731,1171 706,1584 682,1279 931,1072 510,1466 1324,917 619,1442 490,1313 504,1468 973,1113 570,1316 634,1219 843,1153 506,1437 1180,738 511,1174 1013,907 620,1273 605,1341 507,1199 590,1559 1287,1675 509,1275 1487,1436 970,1007 1319,1373 1239,1263 1773,1190 592,1517 996,1194 736,1071 456,1318 568,1316 579,1351 583,1207 463,1280 547,1058 469,1432 757,1403 700,1507 796,1293 788,1079 491,1216 674,958 584,1220 608,1151 974,1320 539,1326 789,1635 743,1436 595,1142 1059,1134 767,1010 636,1523 457,1220 480,1226 853,1347 564,1385 861,954 579,1200 736,1477 1753,1234 790,1175 526,1606 572,1133 513,1445 539,1199 913,1604 1167,1233 443,1245 755,1181 554,1089 1167,849 587,1391 575,1368 596,1225 506,1694 1238,959 1318,1403 829,1280 665,1075 651,1594 1860,1568 661,1476 852,1448 615,1244 1071,1042 661,1312 631,1333 557,1120 584,1121 646,1109 1620,868 947,1535 793,1323 798,1222 624,1016 552,1466 527,1682 970,1335 1035,1253 740,1201 608,1356 528,1181 470,1544 490,1174 754,1415 601,1417 587,1206 829,1397 1087,1189 726,1074 883,926 759,1357 618,1147 1522,572 965,1066 676,1199 867,1175 577,1385 711,1351 821,1103 855,1188 584,1290 665,1364 544,991 696,1122 459,1281 483,1413 498,1545 659,982 645,1681 773,1366 580,1409 543,1496 1695,1068 538,1066 996,944 598,1389 423,1249 635,1386 782,1052 1086,1047 594,1119 606,1218 588,1466 615,1568 591,1414 660,1270 681,1086 785,1587 918,1668 685,1326 1016,1675 815,1356 730,1643 511,1107 453,1437 648,1365 544,1048 700,1603 500,1504 647,1183 581,1330 948,1580 471,1603 851,1482 570,1315 1292,821 589,1130 848,950 570,1212 653,1369 666,1302 565,1030 621,1218 1317,861 769,1235 659,1484 613,1170 403,1422 634,1465 658,1156 819,1240 541,1629 883,1489 627,1398 534,1074 564,1367 709,1360 715,1393 928,1639 707,1137 847,1165 741,1463 653,978 585,1089 938,1561 625,1169 1523,1156 644,1518 534,1171 731,1166 700,1204 545,1618 459,1142 788,1467 747,1383 768,1125 655,1254 817,1437 647,1183 491,1432 769,1342 1310,679 1713,1084 581,1477 627,1406 563,1592 971,1244 557,1125 672,1165 546,1394 1554,1600 575,1511 700,1149 663,1367 532,1450 901,1199 561,1452 634,1251 698,1334 587,1403 540,1262 1730,850 557,1400 542,1120 1261,1542 741,1448 934,1220 675,1355 1274,1024 1446,966 777,1186 1088,1298 561,1361 625,1661 664,1384 665,1180 485,1233 498,1610 812,1593 473,1302 589,1507 1638,923 778,1513 615,1300 494,1210 498,1411 581,1187 533,1260 845,1044 1014,1462 782,1325 685,1159 614,1592 498,1267 1726,1118 853,842 478,1217 474,1244 720,1163 1216,1346"/>
<polyline fill="none" stroke="none" marker-start="url(#m)" marker-mid="url(#m)" marker-end="url(#m)" points="794,1268 524,1630 756,1142 681,1459 458,1311 1015,992 622,1318 727,1395 707,1612 634,1422 542,1185 874,1350 715,1318 1320,1243 563,1458 522,1379 867,1236 1729,1281 741,1197 580,1054 861,1235 1272,818 1331,1383 1529,1072 581,1454 820,1328 614,1514 463,1552 699,1058 496,1235 654,1451 729,1155 1178,978 694,1167 513,1221 804,1235 549,1125 567,1440 592,1367 499,1252 513,1370 667,1206 840,1673 764,1335 603,1430 845,1445 563,1144 1096,1161 723,1042 683,1185 1577,1372 565,1280 1536,776 959,1454 483,1614 751,1627 727,1375 608,1374 1761,1223 1728,1228 1049,1574 482,1358 741,1531 626,1552 697,1186 739,1262 1574,1407 610,1549 542,1529 988,1211 786,1084 1210,1457 701,1668 1084,1351 593,1192 656,1373 917,1427 841,1206 950,1382 1212,1342 769,1002 1063,1130 491,1388 753,1150 669,1403 789,1137 725,1252 518,1448 551,1137 803,1350 694,1374 537,1172 952,1139 466,1460 645,1256 586,1470 612,1484 807,1022 751,1252 543,1299 655,1269 522,1269 844,1545 625,1476 517,1236 707,1268 666,1046 805,1382 911,1029 1440,1131 460,1365 1055,961 1226,833 767,962 498,1406 442,1397 661,1233 579,988 912,1460 644,1226 635,1200 1443,1457 453,1205 862,1350 909,1117 555,1382 1014,1149 610,1171 975,1056 1611,1116 942,996 1225,1303 995,1176 788,1606 583,1241 637,1214 480,1321 1877,824 1050,1265 1238,1127 505,1558 433,1305 1332,1536 846,1012 595,1053 526,944 511,1395 596,1105 1297,940 1449,994 603,1302 1487,886 637,1212 945,1120 596,1302 649,1263 532,1179 1324,1027 625,1337 828,1427 643,1432 726,1095 790,1420 691,1500 1234,1379 595,1588 1492,1175 681,1452 438,1247 654,1249 723,1067 1116,1430 895,1555 634,1389 841,1323 579,1193 525,1468 871,1044 1048,1180 588,1315 614,1536 483,1561 839,1262 1004,1464 1169,1399 633,1150 915,1087 1173,977 720,1330 638,1123 460,1502 652,1324 1843,880 459,1566 905,1504 494,1252 582,1071 535,1148 1323,804 518,1321 485,1181 715,1446 536,1620 718,1095 1051,1338 1039,974 1045,1645 508,1436 759,1380 665,1334 560,1279 1584,818 839,1259 962,1515 988,1503 692,1338 897,1382 847,1315 526,1208 563,1092 918,1526 829,1436 535,1516 559,1359 526,1344 1163,1262 880,1403 760,1178 875,1067 694,1186 746,1128 1050,1178 563,1093 1374,1021 1082,1065 1055,861 572,1475 599,1103 879,982 503,1548 602,1275 919,1511 1350,1468 577,1620 874,1189 1030,907 866,1048 1050,1463 1554,567 500,1209 525,1481 664,1151 689,1046 430,1291 551,1505 699,1130 597,1345 523,1325 456,1484 938,1207 972,1129 661,1507 578,1658 656,1682 661,1061 483,1374 767,1210 1116,1020 512,1515 496,1251 939,1032 501,1382 1252,1510 539,1280 701,1477 562,1595 687,1280 757,957 790,1241 578,1378 766,1692 842,1230 1781,661 598,1230 1301,869 650,1276 603,1345 552,1313 525,1266 1143,1462 539,1616 1120,1238 1100,1372 620,1247 458,1440 887,1063 933,992 562,1709 812,1254 824,1222 688,1087 589,1451 466,1315 583,1587 1275,1350 836,1097 600,1175 905,1391 534,1168 448,1388 702,1175 558,1188 647,1198 523,1610 525,1565 530,1665 694,1507 492,1368 838,1365 745,1148 823,1269 875,1044 614,1584 893,1507 619,1268 488,1317 536,1516 602,1433 1821,1031 683,1176 461,1466 1174,1369 536,1503 573,1452 450,1225 1502,1245 788,1232 565,1017 605,1514 535,1313 705,1411 603,1400 650,1079 483,1298 906,1624 1240,1318 970,1339 602,1401 863,1092 584,1304 518,1217 828,1274 957,1429 949,1045 890,1138 538,1233 843,1278 551,1280 1165,1638 665,1279 794,1148 1032,1117 678,1504 475,1291 589,1166 609,1417 610,1472 618,1187 843,1202 1380,835 609,1068 516,1448 703,1481 498,1150 509,1224 474,1602 583,1636 1080,1248 544,1186 935,1300 873,936 1594,870 645,1417 891,1153 634,1203 693,1313 641,1472 690,1212 594,1445 717,1487 852,1251 1217,1177 1691,978 575,1420 554,1327 1309,1326 899,1515 551,1476 1417,1119 897,1297"/>
<polyline fill="none" stroke="none" marker-start="url(#m)" marker-mid="url(#m)" marker-end="url(#m)" points="1021,917 649,1465 845,1418 516,1178 565,1086 655,1236 687,1307 650,1371 612,1352 578,1604 796,1063 564,1421 649,1478 1117,1159 613,838 994,1450 668,1517 809,1124 735,1519 532,1282 535,1240 521,1242 554,1306 517,1431 1175,1132 841,1404 552,1119 1187,1143 657,1088 550,1233 751,1237 1474,1305 472,1254 1249,930 620,1193 756,1169 635,1159 605,1547 1218,1337 957,1217 1007,1075 681,1464 1659,1066 659,1337 646,1425 1050,1656 477,1262 1136,1169 515,1459 1833,867 518,1429 626,1244 783,821 805,1171 650,1383 939,1099 590,1107 762,1604 957,1250 575,1408 643,1110 950,1607 886,1168 725,1103 488,1391 546,1359 546,1271 922,1497 610,1473 734,1285 750,1338 1751,1623 530,1187 687,1332 662,1319 726,1043 837,1214 585,1183 612,1208 591,1473 1281,1142 499,1286 1291,1029 1111,861 655,1272 458,1400 511,1205 477,1352 446,1477 831,858 1266,1097 803,1587 482,1552 1566,1595 637,1361 786,1622 1131,1270 609,1410 545,1057 1419,1276 554,1378 1259,1258 505,1480 529,1087 598,1614 650,1398 582,1558 549,1013 750,1129 785,1456 455,1293 717,1368 552,1351 615,1405 498,1033 564,1419 1073,1028 795,1642 650,1290 884,1369 1541,1042 1245,1119 622,1277 672,941 477,1491 696,1116 584,1492 572,1437 582,1649 1190,1162 505,1083 1173,1520 846,1037 772,1226 578,1246 733,1235 462,1343 424,1232 500,1247 745,1272 596,1102 538,1431 1106,1129 470,1094 972,1558 678,1701 603,1109 593,1179 980,1096 549,1313 513,1187 725,1522 687,1439 548,1032 1777,839 654,1431 547,1213 704,1063 622,1356 508,1354 537,1506 922,1264 541,1477 1147,1120 1056,1331 482,1487 553,1336 489,1070 732,1418 1096,1556 498,1403 778,1201 685,1352 597,1579 633,1136 504,1049 549,1392 646,1198 567,1381 702,1661 642,1516 768,1106 1008,1234 701,1225 605,1452 776,1328 724,1599 713,1144 482,1221 1017,1283 459,1522 804,1554 882,1597 661,1329 770,1208 889,1182 519,1566 676,1178 705,1272 991,1202 619,1596 501,1093 612,1165 492,1173 623,1317 508,1338 652,1115 1091,1241 1081,617 620,1347 510,1253 631,1284 631,1598 498,1251 493,1488 543,1370 868,1370 646,1398 649,1687 625,1308 574,1404 776,1343 1141,1019 647,1356 505,1317 726,1384 573,1288 873,1422 816,1486 586,1281 546,1325 581,1161 1015,1148 877,1059 729,1300 478,1233 781,1208 1707,1386 1223,756 1243,1461 629,1215 713,1391 899,1226 708,1258 655,1264 785,1254 830,1304 511,1419 542,1254 462,1379 605,1139 1053,1268 553,1274 580,1295 1224,1095 597,1201 623,965 1462,663 1626,880 612,1524 595,1159 756,1294 648,1281 1548,1427 481,1357 568,1220 873,1260 495,1202 683,1443 1162,818 585,1022 847,1260 561,1110 1097,1202 663,1268 873,1437 509,1314 593,1450 530,1288 1269,1171 765,1184 966,1244 643,1323 633,1457 645,1354 953,1476 515,1541 798,1633 473,1374 587,1195 554,1544 672,1247 1528,720 640,1289 656,1268 772,1282 879,1257 592,1474 581,1339 617,1245 603,1443 638,1216 709,1325 1411,1461 502,1309 501,1386 860,1161 587,1380 538,1474 1586,974 1278,785 1110,1653 1077,1356 702,1623 624,1386 533,1398 686,1561 463,1259 555,1492 1564,623 1574,937 599,1290 952,1191 624,1375 537,1692 651,1219 601,1333 612,1097 515,1482 839,1046 537,1400 931,1100 1083,1406 1133,1246 916,1423 1362,1458 830,1263 516,1577 556,1361 511,1445 529,1193 563,1560 515,1352 600,1417 1286,1134 1081,991 597,1180 1234,1015 922,1249 975,955 486,995 743,1080 797,1303 644,1365 484,1332 1404,700 718,1179 642,1464 649,1325 550,1589 477,1501 1326,1196 712,1264 574,1326 493,1442 622,1316 511,1211 523,1121 1186,1036 505,1356 651,1622 616,1321 723,1285 468,1362 601,1165 392,1606 474,1384 523,1395 504,1213 556,1407 684,1240 666,1599 508,1521 911,1079 634,1111 517,1385 823,1309 1042,1238 866,984 666,1347 1324,661 1839,963 653,1172 683,1247 1044,1229 714,1006 682,1478 508,1276 542,1571 566,1241"/>
<polyline fill="none" stroke="none" marker-start="url(#m)" marker-mid="url(#m)" marker-end="url(#m)" points="861,1210 1299,1312 1027,1151 593,1132 1041,966 659,950 659,1210 740,1501 850,1436 486,1361 1000,1486 565,1613 901,1211 539,1462 529,1228 554,1309 575,1322 1088,820 677,1330 656,1336 511,1540 898,1001 604,1298 583,1472 598,1427 771,1313 686,1373 931,1412 622,1450 500,1480 581,1240 1373,1457 672,1573 485,1491 550,1292 1448,873 602,1147 862,1410 1376,1359 1047,1472 823,1258 510,1554 575,1261 585,1034 651,1244 886,1082 490,1224 522,1213 572,1355 490,1325 1135,1213 717,1428 1150,851 748,1519 673,1623 861,1361 1004,1175 902,1288 523,1049 956,1480 642,1634 681,1044 663,1133 614,1242 1112,882 603,1233 593,1280 574,1552 678,1200 561,1557 647,1600 520,1303 768,1348 675,1578 698,1226 538,1632 534,1465 682,1632 1278,1482 854,1091 465,1250 509,1271 622,1360 813,1411 486,1459 555,1060 1062,1417 1187,1500 686,1237 488,1210 598,1260 1183,1337 550,1207 505,1684 806,1688 1374,1209 1027,837 696,1142 518,1366 837,1231 707,1252 690,1104 883,1597 529,1389 521,1165 551,1151 606,1333 526,1290 664,1211 773,1575 1565,884 781,1215 516,1404 567,1309 543,994 925,1371 791,1198 721,1167 501,1404 588,1184 1319,1330 574,1286 483,1470 631,1013 1394,1190 964,1083 802,1221 1376,743 1032,1089 496,1216 765,1232 800,1576 491,1370 550,1026 1106,1331 793,1260 1486,1009 980,1298 520,1205 624,1181 551,1129 774,1248 525,1491 667,1646 700,980 530,1332 974,878 986,1382 852,1101 535,1329 653,1405 1682,624 646,1282 816,1288 722,1106 1069,810 609,1376 1365,1200 893,1150 1467,1438 633,1258 784,1023 734,1332 685,1557 550,1408 976,1240 427,1483 962,1689 709,1358 967,1313 1321,1055 680,1543 786,1185 872,1235 511,1378 1121,1360 596,1190 629,1310 506,1109 1125,1192 1094,1203 508,1467 498,1493 496,1519 1410,1607 701,1422 827,1199 1355,1149 580,1200 560,1276 497,1207 790,1254 724,1318 613,1465 593,1312 1049,1192 879,1083 741,1380 969,1357 530,1245 649,1581 1692,794 516,1026 1124,938 976,1401 619,1251 708,1341 966,1322 912,1152 914,1143 1311,1259 863,1280 884,1291 657,1243 678,1320 791,1687 463,1173 472,1250 657,1307 572,1286 1841,670 691,1472 654,1073 648,1366 537,1372 532,1596 1311,964 521,1373 998,1267 708,1504 487,1636 986,1073 1085,1560 852,1319 821,1008 715,1210 666,1099 1040,1009 861,1375 621,1089 621,1356 763,1691 846,1218 825,1124 647,1382 556,1139 649,1357 651,1434 616,1706 572,1582 604,1411 506,1205 624,1575 778,1318 647,1196 988,1168 487,1162 627,1328 1212,1248 1147,953 550,1220 574,1231 507,1007 550,1295 622,1193 902,1654 515,1319 1044,1276 622,1392 611,1283 1038,1569 645,1391 869,1336 620,1433 543,1544 592,1314 615,1067 1076,1513 691,1369 648,1511 525,1460 509,1122 464,1353 486,1159 746,1300 1007,1458 474,1430 728,1220 1199,1371 1113,1323 982,1079 615,1111 469,1174 856,1519 661,1172 861,1504 510,1343 470,1361 1369,1621 1385,1162 659,1569 573,1279 750,1643 550,1533 468,1385 673,1502 560,1427 862,1616 644,1313 638,1218 570,1241 489,1372 1355,892 1829,1092 514,1227 1383,767 615,1135 594,1104 655,1546 461,1317 678,1142 503,1554 532,1432 1089,1568 1416,1223 612,1394 1447,1144 643,1278 810,1293 791,1410 621,1100 744,1224 663,1297 727,1458 519,1272 942,1272 689,1250 489,1244 632,1190 571,1489 482,1323 597,1350 1096,847 813,1532 572,1286 1554,1589 1695,871 893,1052 600,1487 715,1098 718,944 719,1094 822,1422 667,1296 616,1425 707,1403 696,1455 427,1350 493,1285 1801,1144 1037,1120 1733,904 654,1546 624,1174 478,1194 678,1238 468,1289 854,1254 472,1325 1446,1313 774,1214 649,1055 659,1236 553,1438 607,1262 795,1207 902,1266 709,1288 612,1567 931,1297 579,1220 600,1641 1106,1258 1346,1008 945,1565 706,1102 543,1503 976,1460 722,1338 1043,907 798,1247 745,1464 1003,1055 982,1004 1375,1427 626,1344 778,1268 786,1343 536,1046 624,1454"/>
<polyline fill="none" stroke="none" marker-start="url(#m)" marker-mid="url(#m)" marker-end="url(#m)" points="725,1305 698,1413 586,1166 572,1453 1047,1486 580,1338 928,1129 518,1205 492,1542 609,1354 669,1404 387,1198 541,1424 707,1302 896,1189 649,1064 678,1215 627,1189 798,1276 1047,1244 505,1418 1435,1158 1009,1295 689,1292 712,1091 680,1114 512,1551 653,1419 477,1317 492,1140 498,1117 547,1107 491,1314 749,1353 1104,994 1598,1118 669,1228 581,1184 770,1394 531,1102 891,1187 580,1370 583,1462 1016,998 505,1154 967,1200 660,1210 799,1080 478,1209 613,1525 503,1263 651,1523 1300,1028 971,1308 692,1065 509,1291 579,1485 704,1272 591,1538 620,1206 1440,998 667,1209 550,1301 577,1145 920,1291 754,1101 1463,559 690,1262 1127,1158 1002,1175 570,1135 472,1393 1045,1514 417,1442 784,1187 481,1450 857,1136 820,1478 761,1523 597,1478 523,1380 512,1418 515,1209 740,1516 490,1352 974,1303 625,1550 796,1619 959,1099 703,1498 597,1548 521,1467 444,1125 676,1363 539,1337 768,1540 677,1306 645,1219 773,1191 687,1211 502,1406 793,1215 787,1297 554,1287 1609,1048 704,1225 504,1403 484,1662 543,1222 573,1459 683,1460 860,1192 653,1150 525,1352 766,1500 925,1082 700,1267 555,1540 789,1348 511,1395 1080,984 1006,1478 588,1166 816,1065 864,1111 814,1377 675,1183 519,1106 556,1394 685,1293 560,1339 767,1260 1257,1196 897,1549 864,1487 850,1129 794,1042 541,1230 752,1482 823,1346 1131,1593 1833,1072 655,1336 538,1494 704,1300 814,1114 897,1338 768,1096 915,1076 763,1523 1638,1479 633,1578 570,1432 678,1208 543,1453 529,1461 724,1282 1018,1226 539,1452 475,1283 557,1341 489,1153 701,1508 521,1119 619,1189 910,1364 554,1045 1027,1014 616,1226 1336,1049 1488,1072 730,1056 746,1605 639,1124 1160,1221 640,1477 694,1349 524,1521 1120,1102 584,1250 1502,783 771,1277 541,1386 932,1019 503,1422 593,1286 1679,1327 699,1438 628,1032 702,1261 543,1033 668,1516 961,1254 667,1179 757,1129 1144,1338 554,1188 613,1089 638,1142 774,1204 1002,1130 616,1191 663,1278 483,1286 1250,1099 525,1512 495,1169 502,1219 1187,1150 1053,1547 649,1404 561,1563 822,1220 1521,1331 500,1244 464,1256 1147,1371 670,1113 1005,847 651,1292 512,1403 588,1497 495,1468 572,1336 511,1401 845,900 995,1377 822,1072 1288,1102 760,1483 597,1151 562,1665 700,1295 599,1331 1041,1125 539,1530 972,1363 584,1325 1073,1312 845,1326 618,1331 575,1125 626,1376 1430,1069 557,1142 610,1389 658,1356 553,1507 1054,1483 475,1199 712,1207 1192,973 482,1323 591,1467 992,1159 744,1160 646,1348 597,1413 665,1112 732,1133 606,1279 769,1165 719,1057 537,1545 472,1486 637,1579 1313,1331 488,1347 665,1221 941,1251 810,1170 947,1099 644,1414 980,1103 905,1371 525,1235 1521,677 902,1052 631,1106 1264,1209 552,1467 580,1517 582,1388 710,1241 645,1475 1062,1376 1719,1003 476,1454 866,1172 991,994 840,1277 1088,1086 938,1237 762,1192 684,1450 904,1393 793,1321 1188,1546 966,1195 680,1305 476,1105 1154,1285 962,1008 867,1235 490,1400 599,1136 896,1085 514,1509 1750,513 640,1235 706,1347 877,1141 1149,1567 524,1177 824,1275 792,1120 1028,1539 647,1194 489,1229 485,1517 572,1255 630,1532 611,1254 777,1081 970,995 951,910 649,1221 551,1385 541,1456 710,1455 1098,1032 535,1519 761,1501 696,1281 504,1362 1157,1398 633,1540 499,1309 590,1336 620,1188 723,1587 514,1522 746,1227 906,1216 568,1232 682,1280 658,1430 583,1346 1475,1026 738,1145 470,1005 709,1406 1236,1109 834,1068 1656,1033 868,1049 1302,1520 664,1217 713,1042 592,1352 935,1297 1042,1570 564,1293 483,1181 742,1175 1225,898 624,1219 563,1519 453,1187 552,1405 671,1213 551,1552 600,1222 568,1174 459,1433 586,1477 973,1184 696,1158 524,1440 806,1602 492,1507 646,1407 1505,979 738,1318 831,1148 755,1163 584,1512 1504,748 661,1480 712,1125 575,1589 763,967 514,1404 565,1399 713,1273 847,1232 822,1267 519,1473 642,1539 755,1504"/>
<polyline fill="none" stroke="none" marker-start="url(#m)" marker-mid="url(#m)" marker-end="url(#m)" points="570,1510 716,1222 719,1330 528,1468 1191,1157 533,1151 572,1569 795,1278 493,1567 1101,1197 1021,1417 596,1345 987,1128 672,1229 587,1572 1795,1171 641,1435 636,1438 717,1138 770,1615 968,1487 479,1394 853,1034 981,1399 1022,1612 598,1352 469,1515 532,1358 513,1677 834,1235 613,1248 600,1197 565,1504 1001,1179 1889,914 1314,1083 568,1484 1542,1114 790,944 551,1608 563,1444 770,1136 482,1320 630,1420 537,1419 636,1125 483,1418 1284,1208 1013,922 921,1300 524,1655 653,1397 494,1140 1036,1078 653,1227 575,1419 913,1540 1237,1451 983,1200 1298,1177 1053,1106 652,1003 804,1287 592,1425 517,1493 694,1523 925,1212 572,1134 540,1558 931,1114 805,1156 1163,906 793,1631 1262,1225 1225,968 876,1158 610,1362 964,1239 651,1289 833,1103 489,1486 471,1459 634,1386 1331,806 622,1200 645,1438 558,1061 1146,1172 748,1116 650,1175 701,1602 715,1123 568,1388 535,1548 570,1329 504,1177 1011,1416 921,1220 694,1289 686,1611 861,1111 720,1426 859,932 530,1534 1071,1199 532,1606 549,1196 1045,1213 754,1140 1127,883 788,1391 863,951 687,1413 906,1218 1197,1247 609,1157 985,1130 725,1226 547,1569 1064,1301 479,1199 796,1035 814,1387 691,1352 594,1293 867,1637 936,1193 508,1416 465,1360 672,1049 714,1146 509,1254 860,1243 484,1234 508,1426 778,1285 1000,1376 689,1137 791,1439 691,1220 584,1359 1147,1233 483,1444 546,1332 589,1526 774,1164 650,1372 654,1261 867,1178 877,1353 479,1394 1082,1142 646,1214 538,1131 1506,917 769,1075 585,1406 723,1628 838,1162 507,1283 604,1258 1104,1012 682,1650 1008,1333 652,1201 579,1426 653,1522 1649,1498 673,1145 725,1432 749,1128 459,1319 528,1437 548,1243 1126,1152 547,1349 782,1214 816,1522 985,1004 1251,1024 601,1479 779,1091 640,1425 902,1148 940,1162 610,1655 875,1595 1077,1627 599,1292 1314,1155 506,1483 684,1160 1005,1041 977,1242 686,1301 1446,889 435,1388 612,1208 670,1128 569,1131 568,1284 718,1574 1322,1295 602,1145 1027,1457 538,1561 491,1208 603,1342 620,1524 562,1386 772,1299 601,1217 625,991 657,1053 709,1405 735,1240 816,1200 1046,1176 480,1297 671,1130 641,1457 692,1349 655,1082 813,1228 466,1200 796,1596 458,1328 518,1282 714,1110 504,1236 717,1356 489,1590 930,1197 653,1286 709,1540 616,1396 1008,1306 1712,588 727,1618 588,1391 712,1442 702,1193 990,879 691,1512 703,1585 1381,727 889,921 803,1378 651,1163 859,1587 655,1334 699,1377 506,1288 1128,1305 497,1507 566,1137 1210,1072 832,1273 1342,1123 1382,1022 728,1025 797,1530 1225,1347 483,1155 659,1488 1358,812 572,1393 882,1013 540,1579 1248,1235 673,1468 654,1164 476,1681 679,1334 1107,1058 1019,1188 565,1232 518,1507 552,1634 768,1184 495,1241 569,1264 485,1337 568,1233 561,1197 540,1470 1737,1430 1665,1390 618,1346 768,1257 888,1212 867,1678 466,1250 917,1656 531,1180 525,1069 702,1393 523,1187 1632,528 482,1442 420,1212 507,1437 827,1260 547,1193 509,1418 479,1278 1482,1581 875,1225 526,1554 491,1182 1159,1327 654,1066 617,1458 677,1175 1178,1176 488,1315 729,1227 829,1402 900,1126 512,1198 1266,1070 553,1104 1167,1126 892,1043 1068,1201 503,1657 656,1340 524,1141 920,1108 491,1182 481,1262 966,1164 596,1473 485,1159 489,1391 634,1052 659,1456 555,1333 468,1502 576,1142 759,1129 501,1574 1346,1280 502,1260 813,1358 1135,672 768,1337 558,1209 1046,895 592,1123 707,1467 1012,953 853,1286 782,1348 679,1320 883,1612 608,1272 514,1232 1067,1508 1134,1121 1159,1285 538,1133 538,1577 637,1148 731,1033 1514,1395 579,1465 528,1179 741,1366 663,1396 437,1181 633,1310 555,1566 611,1224 1033,1138 626,1548 692,1530 810,1469 607,1185 773,1079 578,1259 610,1279 1158,855 1198,1205 810,889 662,1400 643,1416 538,1140 1027,798 508,1275 535,1339 714,1190 675,1447 506,1608 975,1632 736,1167 572,1512 690,1173 572,1267 607,1107"/>
<polyline fill="none" stroke="none" marker-start="url(#m)" marker-mid="url(#m)" marker-end="url(#m)" points="553,1711 444,1198 617,1224 786,1046 632,1355 670,1609 1554,1457 749,1094 705,1383 705,1166 812,1389 812,932 526,1124 877,1280 606,1136 500,1525 922,1000 644,1400 545,1044 527,1430 902,820 1188,1079 719,1379 633,1548 1612,1545 624,1209 1111,1319 595,1361 647,1119 752,1234 548,1360 636,1586 659,1548 908,1295 543,1310 804,1156 763,1076 994,1084 1303,1602 497,1258 1417,985 725,1155 658,1328 762,1257 626,1476 850,1087 540,1603 518,1553 518,1579 809,1470 1068,1246 1330,1149 993,1504 680,1656 846,1555 676,1490 784,1094 509,1163 695,1484 568,1557 657,1358 670,1325 723,1496 897,1490 1156,1017 531,1232 875,1307 1087,1199 1360,864 594,1291 502,1291 841,1342 997,1537 619,1380 655,1278 540,1254 1291,1442 726,1242 1059,1422 533,1355 1010,1288 516,1327 518,1427 608,1331 1134,1073 948,981 1775,1093 870,1162 539,1299 512,1591 625,1225 587,1070 863,1266 822,1186 556,1231 1643,956 1576,839 1169,1615 596,1260 745,1248 639,1029 587,1183 521,1392 818,1323 1306,1099 1122,1424 493,1491 563,1232 688,1472 931,1123 1077,1042 1460,1163 613,1357 937,1306 473,1343 823,1183 638,1255 525,1480 896,1485 506,1240 717,816 470,1361 509,1379 1157,1499 462,1457 869,1204 945,1189 759,1656 828,1015 808,1243 667,1459 770,1394 896,1091 764,1323 941,1144 466,1047 814,1090 487,1237 633,1446 793,1146 533,1058 634,1280 606,1599 496,1121 973,1134 583,1165 1127,1609 846,1189 529,1462 607,1478 715,1417 731,1322 1737,864 779,1205 1843,1194 731,1532 743,1161 510,1262 779,1547 595,1251 545,1300 917,1060 1462,1002 851,1328 518,1472 738,1455 605,1469 492,1451 1213,1168 771,1283 742,1443 1021,1158 713,1173 856,1306 615,1248 601,1116 594,1023 749,1693 786,1355 692,1223 545,1344 572,1387 843,1029 570,1395 684,1465 846,921 497,1039 930,1265 947,1310 891,1237 766,1553 845,1270 610,1079 599,1333 847,1547 734,1108 1228,967 841,1407 710,1444 893,1585 797,1533 809,1679 682,1254 625,1468 552,1461 965,1571 492,1566 686,1475 692,1640 920,1418 568,1346 1131,1364 475,1291 588,993 489,1313 1115,1449 547,1426 1146,801 1369,1189 1291,1050 635,1358 822,1500 645,1332 486,1430 572,1171 708,1359 621,1343 746,1228 485,1413 589,1160 457,1350 690,1033 571,1203 483,1453 1079,1067 536,1182 819,1218 498,1183 504,1651 475,1567 563,1039 1550,1120 779,1603 1147,1245 667,1210 536,1516 848,1482 529,1532 595,1534 837,1249 1375,714 1251,1160 1371,661 474,1400 748,1100 491,1276 589,1189 1094,1128 1083,1604 1817,608 768,1188 609,1300 561,1393 625,1276 776,1619 540,1322 925,1450 760,1387 758,1420 473,1293 832,1172 589,1363 1316,782 1692,1661 1067,1671 490,1537 1223,747 605,1150 644,1427 580,1625 608,1338 613,1221 481,1237 896,1223 910,1564 641,1291 514,1682 639,1499 520,1427 539,1087 747,1703 683,1045 572,1220 964,1090 482,1478 533,1637 624,1187 1336,886 510,1205 613,1055 1155,1005 648,1522 1681,879 1277,1292 629,1412 680,1539 821,1450 1425,713 520,1529 517,1599 1245,1136 629,1173 558,1139 895,1376 527,1249 553,1178 760,1653 671,1534 762,1086 587,1214 579,1328 898,1402 1040,1650 694,1311 567,1310 637,1140 1413,766 1515,674 707,1555 717,1679 544,1686 522,1354 614,1207 752,1122 695,1235 799,1146 1066,1398 615,1253 471,1175 605,1669 878,1327 1797,834 646,1585 445,1339 787,1404 824,1304 643,1384 1063,1226 577,1012 993,1056 669,1533 709,1360 547,1514 613,1172 556,1171 684,1279 469,1330 546,1308 473,1377 1236,1270 653,1179 997,1040 613,1361 816,1126 1173,1288 533,1357 601,1418 751,1583 679,1131 518,1241 1284,910 1329,1462 839,1287 634,1172 836,1458 495,1229 555,1468 605,1674 1433,750 869,1148 682,1359 802,1240 481,1163 583,1244 1268,1194 644,1380 654,1387 672,1204 726,1234 744,1238 769,996 1367,747 622,1183 841,1250 843,1163 819,1151 784,1563 1093,1503 763,1089 1052,1405"/>
<polyline fill="none" stroke="none" marker-start="url(#m)" marker-mid="url(#m)" marker-end="url(#m)" points="630,945 560,1187 584,1592 529,1435 1144,872 577,1267 1002,1135 494,1378 1212,1035 1173,1119 593,1424 598,1166 694,1545 1555,954 541,1262 624,1390 1399,1272 696,1426 737,1009 553,1181 797,1179 530,1388 515,1203 827,1347 588,1220 586,1280 1098,1373 616,1130 1861,1136 653,1388 888,1441 847,1690 490,1340 501,1393 694,1356 1111,1051 542,1496 494,1458 495,1328 761,1434 531,1376 743,1330 461,1357 1561,813 494,1431 1172,1037 580,1187 914,1605 541,1325 511,1392 710,1250 817,1274 857,1253 572,1332 1206,1158 474,1239 783,1298 826,1202 487,1129 745,1271 956,1442 907,957 605,1187 1197,1008 613,1455 471,1401 750,1203 735,1319 912,1309 548,1496 902,1285 523,1045 545,1477 614,1167 1405,599 504,1294 628,1388 513,1545 930,1448 494,1170 557,1488 1230,829 1345,1101 482,1301 764,1488 1175,1001 689,1114 663,1195 730,1212 495,1200 1325,1160 641,1324 510,1559 869,1361 896,1080 509,1621 600,1077 620,1101 855,1389 618,1224 684,1173 723,1594 1250,1152 659,1369 776,1366 827,1374 910,1111 720,1254 1841,1050 591,1545 1272,994 497,1584 786,1147 692,1253 587,1188 472,1194 498,1492 582,1226 961,1304 874,1205 1195,1345 1576,536 470,1236 787,1224 655,1329 711,1281 590,1548 594,1353 646,1052 777,1464 754,1364 592,1243 1215,1070 641,1302 593,1432 620,1296 968,1029 994,1006 765,1185 604,1445 1295,1082 812,1502 910,962 1306,977 967,914 531,1193 635,1204 942,939 538,1097 522,1178 1121,1107 500,1098 547,1631 577,1439 941,1264 587,1236 614,1632 635,1350 581,1492 577,1237 635,1295 684,1501 607,1426 1073,1152 976,1425 805,1131 722,1311 955,1502 730,1003 894,1169 552,1201 507,1439 622,1224 475,1251 1021,981 748,1139 549,1583 515,1682 1100,1337 1554,650 630,1169 655,1153 787,1387 630,1375 1680,1374 551,1118 640,1123 507,1381 652,1357 929,1401 458,1264 1413,1608 1478,893 987,1484 921,1248 397,1216 465,1683 1211,1159 971,1187 807,1644 638,1168 511,1457 594,1124 836,1304 1548,1190 470,1363 606,1474 1145,1145 526,1340 751,1267 841,1272 748,1051 813,1045 507,1559 523,1340 467,1470 557,1446 688,1292 558,1469 833,1145 556,1130 1686,1280 629,1417 998,1151 751,1340 1187,1231 487,1067 575,1218 723,1138 861,1089 838,1068 612,1265 506,1239 476,1617 620,1386 1211,783 498,1289 791,1698 716,1078 1207,818 501,1216 1011,1642 985,1239 599,1247 639,1278 723,1573 466,1554 1133,1256 515,1594 474,1161 415,1349 1004,1034 634,1101 491,1237 498,1440 929,1044 536,1539 1101,1239 544,1466 647,1513 790,1570 894,1187 1168,1347 533,1600 716,1155 801,1659 593,1395 753,1380 803,1298 1823,1346 645,1203 529,1205 960,1545 464,1307 503,1424 734,1245 940,1094 770,1337 566,1549 502,1183 748,1199 710,1298 572,1470 619,1456 735,1426 498,1260 691,1189 576,1407 1235,831 1212,1202 583,1667 1196,1225 964,1226 991,1114 485,1459 780,1458 533,1269 509,1445 1020,1142 555,1315 686,1450 888,1529 761,1609 619,1468 610,1197 650,1073 740,1488 1626,663 517,1343 746,1687 1266,1344 518,1348 1487,1030 534,1428 1365,1576 551,1183 498,1418 731,1256 622,1438 568,1345 740,1290 584,1590 632,1279 873,1397 726,1297 671,1187 1888,743 817,1130 676,1435 763,1266 557,1137 627,1101 890,1163 576,1576 1036,1092 1749,1638 473,1547 629,1317 499,1645 1497,1058 487,1469 470,1383 482,1323 615,1687 608,1107 725,1123 602,1119 970,1195 587,1389 1031,1154 586,1222 586,1284 1018,1192 526,1279 1127,1486 778,1447 1086,1357 459,1398 557,1514 721,1076 1285,1341 458,1186 903,1322 577,1407 543,1404 1113,1363 592,1033 653,1286 583,1532 929,1188 748,1379 1574,1163 519,1378 736,1590 470,1489 697,1251 533,1693 497,1557 522,1386 718,1337 598,1471 479,1187 680,1345 540,1196 588,1693 871,1402 1886,707 972,1331 761,1206 1471,1290 539,1413 672,1383 510,1324 1469,1052 861,837 821,1145 595,1308 558,1106 586,1392 685,1060"/>
<polyline fill="none" stroke="none" marker-start="url(#m)" marker-mid="url(#m)" marker-end="url(#m)" points="940,1292 458,1553 1150,1567 1042,1023 592,1281 476,1200 620,1276 717,1378 479,1265 1675,1136 627,1341 842,1135 1107,612 619,1244 1131,893 865,1434 837,1304 745,1322 568,1097 684,1293 655,973 745,1307 543,1462 686,1346 1317,1255 1051,972 1107,1016 951,1093 512,1549 561,1516 875,935 461,1316 616,1333 1103,1090 605,1237 1356,767 862,1531 566,1399 574,1645 851,907 827,1621 920,1334 1332,1475 496,1536 580,1108 544,1491 520,1476 1064,1259 593,1490 626,1188 990,983 1663,1042 1537,998 598,967 1030,684 727,1398 482,1351 516,1308 566,1327 1522,1091 600,1264 1350,1414 609,1057 1078,1026 1806,1061 595,1148 832,1139 606,1180 671,1518 780,1292 1129,922 765,955 1066,1521 1243,728 721,1640 1544,1370 543,1312 628,1409 1016,1144 813,1201 683,1417 649,1158 1068,961 929,1267 551,1441 725,1364 738,1107 892,1068 549,1217 1012,1213 849,1107 556,1303 731,1138 637,1271 1082,915 478,1298 883,1114 683,1389 620,1233 855,1175 757,1252 880,1558 589,1511 669,1144 899,1044 878,1140 1345,1281 588,999 590,1117 883,1509 486,1300 677,1088 803,1077 644,1173 626,1136 843,1186 507,1614 994,1359 1061,1657 769,1499 475,1208 575,1497 458,1337 535,1660 599,1128 661,1332 849,1105 812,1595 898,1525 860,1027 882,1046 463,1299 593,1609 1285,1095 604,1430 387,1255 973,1474 576,1531 963,1107 978,1299 612,1420 847,1655 505,1154 1087,1431 992,1552 974,1403 1115,998 630,1481 1428,936 614,1395 792,1500 567,1236 502,1364 543,1495 484,1498 683,1395 1181,1392 1546,1291 697,1206 437,1166 496,1214 1066,1162 773,1292 734,1384 657,1327 970,878 652,1387 576,1137 956,1351 604,1457 547,1476 441,1299 861,1595 624,1126 625,1537 1083,1242 531,1515 612,1229 663,1632 577,1599 472,1309 1006,1398 579,1451 559,1388 612,1370 1070,1226 497,1376 565,1197 490,1614 730,1416 536,1644 583,1442 530,1436 632,1164 706,1192 1012,846 1128,1104 1340,862 521,1663 519,1186 840,1444 620,1236 492,1688 637,1283 630,1508 1601,1029 557,1168 761,961 629,1368 817,1403 1347,1574 598,1555 723,1429 559,1512 1268,1140 597,1374 814,1279 1036,1686 691,1533 941,1110 673,1003 880,1287 668,1425 1137,1486 475,1341 465,1368 920,1235 450,1274 1257,1135 1583,871 501,1076 872,1239 548,1544 518,1451 797,1302 667,1489 1447,798 867,1307 577,1305 519,1117 860,1179 552,1437 434,1595 611,1588 729,1548 622,1415 946,1240 778,1326 1062,1059 663,1285 751,1340 936,1022 867,1331 560,1247 1322,1134 1447,790 671,1149 644,1444 481,1697 658,1442 598,1319 629,1424 1018,1198 692,1161 535,1684 1066,1643 547,1213 1041,1365 684,1310 640,1067 863,1177 685,1187 626,1347 595,1100 789,1246 640,1351 822,1249 1598,1095 415,1393 529,1215 478,1363 1623,1411 992,1649 554,1250 484,1422 652,1576 534,1463 518,1276 655,1579 1431,817 891,1160 1033,937 595,1410 940,1291 600,1206 877,1007 1368,1236 1261,973 1491,1502 965,1495 817,1008 786,1295 999,963 636,1248 583,1409 558,1262 590,1261 558,1279 1219,1333 819,1411 867,1600 482,1593 1562,1488 1346,1035 465,1306 814,1166 528,1339 607,1215 646,1205 490,1219 767,1438 1280,1590 669,1242 608,1370 585,1227 570,1431 538,1364 516,1119 683,1076 1223,1331 484,1654 970,1249 580,1163 733,1612 473,1133 471,1430 954,1290 536,1505 590,1341 999,1146 613,978 913,1269 585,1324 612,1084 771,1268 980,1247 520,1193 808,1601 585,1108 728,1215 680,1542 1372,1627 640,1296 521,1277 501,1485 801,1470 766,1650 714,1108 1102,1678 935,1543 558,1156 576,1437 971,1508 732,1473 860,1553 1162,1574 477,1181 599,1200 682,1248 705,1616 565,1342 855,1235 612,1093 724,1516 556,1457 1620,1432 510,1367 777,1662 640,1157 697,1275 639,1175 803,1431 1256,1317 490,1441 573,1371 388,1119 568,1112 912,920 1364,1441 495,928 580,1184 943,1082 545,1221 661,1340 1037,1214 727,1182 743,1135 747,1645 480,1195 498,1546"/>
<polyline fill="none" stroke="none" marker-start="url(#m)" marker-mid="url(#m)" marker-end="url(#m)" points="594,1277 965,1667 506,1258 993,1111 787,1527 524,1396 1304,841 835,1075 1126,1550 1067,1018 1082,1369 937,1303 811,1404 886,1661 493,1150 897,1067 917,1165 651,1260 796,1680 710,1293 594,1282 664,1546 519,1041 778,1367 1322,953 547,1507 1253,1351 517,1564 733,1236 1106,1160 547,1309 808,1205 1305,1468 1191,1254 704,1174 571,1154 791,1293 1848,743 686,1337 450,1398 484,1277 585,966 1064,1640 790,1143 882,1299 499,1245 904,1240 676,1362 693,1251 521,1247 1830,654 948,1195 934,957 1544,1437 601,1333 670,1327 493,1472 925,1294 666,1327 1404,1324 748,1078 636,1200 1440,1280 581,1186 690,1309 1052,1630 849,862 537,1529 724,1306 532,1461 682,1218 664,1421 631,1099 500,1167 1012,1619 1008,1057 821,1012 962,1092 717,1367 853,1167 660,1003 1636,1268 694,1169 493,1259 520,1514 561,1461 921,1195 1870,1270 534,1364 576,1198 923,1396 1101,1544 856,1291 734,1408 642,1400 548,1203 1323,1356 772,1676 633,1108 823,808 801,1240 705,1152 742,1335 705,1511 926,1475 842,1070 552,1263 1337,1241 752,1341 572,1212 650,1126 1356,1582 525,1325 580,1343 733,1477 496,1406 762,1544 489,1265 594,1131 646,1299 642,1364 868,1591 799,1226 623,1285 1762,1039 755,1259 662,1033 951,936 660,1018 1604,655 675,1379 901,1481 643,1222 913,1014 810,1146 796,1372 1714,817 627,1007 896,1249 707,1139 469,1261 1548,909 511,1663 487,1416 1432,1340 1405,1461 1158,1332 616,1271 791,1113 492,1339 969,1549 1261,1244 834,1347 477,1293 794,1558 865,1276 1062,1286 803,1212 496,1451 822,1144 988,1453 560,1365 477,1452 579,1333 461,1358 950,1448 654,1403 520,1073 669,1130 573,1423 1295,892 931,1385 931,881 566,1398 1714,1210 545,1386 878,1660 828,1169 921,1503 944,1478 814,1141 643,1182 797,1424 672,1265 538,1192 541,967 1125,1302 644,1224 679,1303 1416,811 532,1499 932,1332 681,1361 462,1200 913,1358 469,1500 626,1224 1025,1049 493,1563 623,1196 1229,1106 818,1482 518,1059 695,1209 1146,1452 439,1470 806,1514 1056,1022 803,1296 679,1292 608,1519 637,1656 588,1393 636,1432 872,1382 1604,1206 535,1340 544,1353 581,1106 503,1678 575,1402 614,1332 838,1626 625,1290 565,1669 882,1449 770,942 597,1517 539,1192 775,1074 1245,1060 563,1378 539,1423 1102,1208 1799,879 1163,1216 770,1354 527,1419 488,1282 866,1411 727,1251 624,1469 1252,1424 960,1158 1000,1249 947,1520 950,931 586,1185 994,1048 524,1486 1661,641 1830,820 478,1503 495,1304 471,1417 586,1257 566,1366 726,1061 786,1320 997,1109 593,1285 624,1007 1292,837 529,1088 588,1222 542,1283 667,1267 614,1375 1724,752 605,1408 582,1367 493,1356 619,1423 713,1240 630,1696 940,1371 802,1598 818,1302 682,1300 931,1343 651,1305 785,1172 739,1230 1158,1338 749,1116 505,1254 491,1475 1434,1255 864,1570 634,1230 492,1228 740,1520 710,1362 612,1274 1127,766 1361,1430 728,1439 727,1424 839,1325 696,1020 570,1440 698,1266 1821,817 853,1473 1181,1309 720,1193 797,1260 594,1494 472,1482 1035,820 640,1267 551,1514 758,1094 1146,1123 734,1249 1318,1186 462,1372 1013,1576 926,1526 469,1387 621,1183 1028,1325 839,1132 538,1385 763,1342 462,1578 571,1342 554,1478 742,1255 621,1297 471,1155 1666,1116 515,1312 516,1614 491,1429 574,1543 869,1160 1018,1107 617,1392 1241,1073 778,1292 794,991 485,1332 618,1448 541,1595 733,1145 670,1136 1696,1387 514,1223 605,1319 618,1569 592,1023 695,1332 729,1172 1011,1227 739,1218 653,1035 767,1317 999,1518 686,1130 1266,1206 564,1220 550,1615 488,1163 565,1240 882,1069 474,1347 678,1593 435,1284 564,1194 779,1095 1105,975 830,926 549,1380 1713,845 764,1028 519,1469 541,1437 585,1058 559,1234 1123,1140 914,1629 1599,1558 1672,1068 615,1265 525,1262 671,1078 878,991 671,1199 501,1269 531,1087 811,1169 737,1278 809,1416 685,1695 530,1396 774,1517 839,1149 522,1452 577,1498"/>
<polyline fill="none" stroke="none" marker-start="url(#m)" marker-mid="url(#m)" marker-end="url(#m)" points="848,1369 470,1224 544,1320 596,1379 1425,1138 609,1213 754,1197 656,1219 568,1498 700,1097 694,1295 505,1384 580,1651 746,1196 952,1107 1066,1423 602,1251 935,1153 863,1243 865,1225 565,1452 1430,1090 465,1187 689,1098 555,1241 679,1207 621,1123 606,1184 762,1327 520,1241 619,1384 541,1247 592,1114 589,1057 1882,1410 508,1282 544,1465 884,1356 1049,1125 915,1110 1408,1039 851,1363 668,1174 1255,997 725,1272 573,1252 675,1122 466,1393 609,1185 613,1056 661,1086 647,1060 1023,1188 542,1546 672,1105 830,1538 1076,1489 837,1308 843,1112 604,1123 531,1407 697,1307 726,1178 536,1232 514,1385 1560,1008 544,1427 643,1088 1022,916 545,1270 929,889 544,1673 553,1157 577,1046 819,1190 1120,1403 989,1221 631,1306 656,1359 626,1049 632,1123 883,1364 1103,1194 815,1220 688,1260 527,1213 498,1370 660,1592 617,1200 829,1094 648,1458 1233,734 1502,722 717,1344 1686,821 1203,1240 614,1443 736,1192 747,1224 847,1192 689,1158 637,1204 544,1602 578,1406 728,1163 587,1540 602,1329 628,1282 1129,1323 506,1359 1173,1132 514,1079 795,1201 973,1348 501,1350 958,1327 578,1373 753,1408 703,1250 483,1158 607,1042 1053,1207 568,1478 992,1521 1072,1556 855,1289 834,1153 674,1292 494,1240 564,1466 900,1205 918,1178 577,1405 674,1172 848,1063 699,1567 1648,718 1053,1229 748,1614 549,1459 689,1424 537,1491 706,1152 894,1171 736,1301 597,1194 857,1022 951,1579 1462,1295 699,1383 1405,1003 491,1352 533,1093 746,1372 867,1140 589,1197 697,1453 813,1155 548,1498 1496,781 670,1173 568,1527 620,1228 1288,996 522,1118 626,1314 753,1047 536,1513 1183,1271 628,1414 1167,1228 531,1342 617,1355 622,1305 1750,985 984,1623 542,1085 719,1381 668,1217 760,1142 900,995 1403,984 854,1246 1791,1052 455,1439 538,1403 802,1070 775,979 581,1279 661,1456 654,1179 923,1270 773,1229 1884,746 771,1010 546,1459 606,1412 515,1391 523,1096 480,1358 848,1275 567,1227 504,1189 565,1057 989,1045 597,1422 539,1406 681,1596 862,1564 573,1348 1489,1198 809,1272 629,1156 504,1201 551,1167 514,1010 593,1062 1145,1050 837,1245 498,1347 555,1403 620,1544 890,1264 844,1520 703,1500 578,1229 1016,1193 521,1552 640,1327 525,1244 538,1614 585,1331 1688,695 1107,1008 513,1554 555,1192 940,1404 1445,773 819,1287 816,1144 691,1207 1086,867 785,1418 1138,1095 1256,1062 667,1576 1412,1347 994,1095 517,1444 777,1406 902,1346 482,1346 948,1013 1102,1333 718,1473 831,1516 812,1370 1429,728 890,1398 724,1579 609,1301 899,983 741,1154 1159,1196 534,1516 1193,1051 1297,864 573,1141 854,1533 541,1361 662,1499 523,1548 1861,875 496,1463 527,1300 1467,1629 512,1209 689,1409 1497,732 453,1190 876,1161 514,1327 780,1235 596,1289 777,1266 624,1223 1337,1079 1314,1226 498,1533 499,1472 608,1562 469,1226 723,1050 572,1152 693,1219 560,1360 1482,1066 626,1235 651,1368 673,1181 557,1188 574,897 1233,764 673,1375 828,1196 516,1267 1036,1268 1023,1536 798,1250 762,1450 606,1191 956,1457 1098,1577 550,1591 626,1301 624,1141 499,1543 581,1427 1819,835 522,1404 817,1660 521,1426 898,1593 577,1666 890,1279 1352,1296 800,1334 795,1011 1532,899 554,1465 794,1512 762,1613 480,1293 603,1349 802,1312 630,1441 681,1227 1111,1057 494,1514 499,1384 593,1542 488,1416 490,1043 850,1310 792,1033 933,1412 1771,773 596,1164 1164,826 608,1367 554,1117 527,1192 526,1192 1063,1272 930,1214 664,1515 764,1283 607,1177 1277,1007 484,1588 608,1592 743,1229 498,1703 701,1366 916,933 690,1306 710,1177 659,1237 503,1342 559,1471 801,1225 1888,1524 1061,1116 1418,1458 780,1244 628,925 609,1515 678,1437 627,1157 535,1465 751,1405 627,1634 1054,1391 1098,1249 995,1302 590,1258 803,1109 1044,1189 545,1339 872,1082 1669,1321 512,1579 474,1226 1680,1302 875,1109 484,1526 714,1085 509,1578 817,1103 751,1199"/>
<polyline fill="none" stroke="none" marker-start="url(#m)" marker-mid="url(#m)" marker-end="url(#m)" points="585,1645 649,1412 1204,963 612,1254 479,1351 468,1329 1077,843 808,1524 1031,1178 922,1572 572,1226 666,1356 731,1342 521,1085 852,1537 914,1384 628,1219 887,928 1132,1547 789,1141 939,1421 581,1526 483,1303 1013,1162 519,1403 800,1564 723,1159 670,1072 489,1498 1185,856 632,1282 672,1229 819,1271 625,1433 623,1471 891,1313 861,1370 640,1429 563,1222 817,1640 1159,1190 577,1046 521,1194 551,1387 487,1589 605,1517 1219,1106 649,1255 914,1326 805,1126 750,1526 781,1643 496,1313 898,876 1452,1056 456,1248 828,1533 493,1476 929,1316 538,1513 599,1106 818,1267 589,1561 613,1472 645,1296 546,1409 735,1143 591,1568 487,1136 621,1422 533,1502 1522,1106 648,1527 567,1120 659,1354 658,1211 626,1422 515,1153 540,1193 1450,889 517,1047 633,1225 1228,969 731,1191 524,1617 623,1616 698,1325 566,1584 642,1267 1509,1320 474,1630 909,1432 565,1165 586,1211 833,1326 627,1178 586,1114 484,1395 557,1249 655,1187 854,1301 761,1697 1870,927 538,1217 725,1244 1033,1336 493,1339 638,1207 665,1434 678,1175 583,1329 1813,847 650,1348 805,1314 802,1283 695,1160 1062,1480 461,1356 610,1244 751,1518 505,1435 1023,1043 1220,1130 904,1187 599,1067 1202,1174 644,1267 661,1336 567,1461 528,1177 682,1406 755,1554 595,1487 1390,1049 542,1515 496,1154 924,1291 1343,600 936,1232 895,1263 695,1318 1500,1251 968,1567 602,1419 560,1178 615,1320 1047,1452 574,1237 685,1218 833,1402 680,1485 817,1639 1093,1256 650,1314 549,1492 932,1334 1035,1251 578,1333 1295,1178 710,1239 745,1512 578,1214 596,1432 498,1332 470,1196 669,1456 656,1563 634,1475 681,1413 450,1359 730,1126 960,947 936,1112 1057,1177 524,1493 510,1414 1318,1073 703,1371 595,1388 652,1244 552,1308 427,1350 482,1169 655,1646 948,1098 1357,565 469,1368 619,1375 516,1254 685,1308 819,1334 452,1351 955,1321 1090,1042 469,1311 778,1462 514,1324 1885,884 766,1566 1059,945 1302,835 826,1388 654,1171 830,1688 531,1124 590,1052 1055,1300 954,1422 814,1206 958,1610 596,1158 595,1172 562,1204 524,1503 594,1664 916,1138 1186,1211 1337,1264 1094,933 593,1660 763,1301 952,1079 902,1533 623,1061 1183,1104 654,1441 711,1086 511,1255 502,1522 1051,1378 620,1276 517,1439 517,1179 1023,858 504,1541 653,1341 1207,1375 1839,1083 728,1203 1314,1309 1180,1136 492,1172 756,1358 1287,1269 517,1278 528,1361 517,1340 477,1399 690,1354 580,1088 665,1096 634,1304 1286,1318 547,1171 1009,1334 617,1375 446,1380 489,1373 494,1011 496,1501 599,1149 1150,1037 548,1451 900,1276 776,1545 490,1237 1332,958 590,1368 1488,687 618,1548 485,1139 624,1473 630,1406 459,1283 543,1530 717,1167 1411,1050 614,1487 552,1547 611,1305 498,1123 483,1428 762,1600 543,1392 1580,1325 601,1599 530,1167 1332,1095 1201,1148 543,1177 569,1145 585,1594 554,1410 469,1425 653,1051 441,1192 1200,1400 522,1072 602,1285 751,1136 598,1484 1228,963 1367,1609 571,1498 604,1180 588,1094 672,1148 1737,1180 767,1118 834,970 961,1135 649,1317 947,1150 856,1524 700,1288 1043,1056 531,1470 600,1133 508,1518 580,1290 537,1137 572,1167 1053,1304 938,1540 583,1451 544,1440 977,1404 799,1399 1048,1370 684,1380 826,1482 690,1634 761,1621 702,1437 965,1044 653,1685 529,1298 856,1439 629,1034 988,1512 1443,1582 1003,1164 1490,928 507,1432 732,1262 596,1175 761,1479 972,1284 1108,1016 414,1363 503,1454 737,1403 1312,1161 743,1317 1098,999 708,1365 899,1127 1235,734 599,1129 1018,1432 586,1166 629,1600 544,1306 439,1513 870,1264 566,1445 492,1024 934,1112 1013,1045 535,1288 776,1634 588,1208 1041,1103 1133,1677 477,1351 606,1241 1564,1427 471,1223 689,1006 763,1316 511,1354 509,1453 988,1068 1183,1181 706,1538 876,1224 506,1496 608,1443 566,1523 861,1621 734,1046 1869,914 605,1095 648,1196 515,1341 1152,1220 775,1171 554,1493 1329,1119 592,1370"/>
<polyline fill="none" stroke="none" marker-start="url(#m)" marker-mid="url(#m)" marker-end="url(#m)" points="1106,990 730,1161 509,1216 549,1360 923,1472 879,1077 821,964 1627,1530 587,1373 833,1303 732,1120 769,1063 548,1375 862,1157 1076,987 705,1384 718,1376 786,1381 719,1189 617,1397 718,1171 1707,1078 957,957 522,1518 855,1374 1146,1406 696,1102 534,1540 547,1422 651,1640 529,1442 531,1286 1040,1240 526,1521 520,1395 892,1408 1806,1109 522,1477 540,1259 493,1254 631,1419 473,1441 1011,1150 528,1265 723,1434 532,1526 675,1214 787,1237 685,1528 764,1453 547,1505 721,1348 778,1275 1006,1543 1248,1420 1092,1092 706,1298 461,1328 787,1328 975,1218 963,1077 665,1109 633,1328 747,1086 725,1316 760,1072 1119,1329 557,1233 942,968 547,1542 498,1467 725,1577 744,1541 1354,905 524,1478 603,1525 574,1089 583,1480 1014,1435 1414,815 1015,1263 569,1398 593,1671 801,1250 533,1487 722,1106 618,1295 909,1261 746,1013 463,1274 525,1429 468,1068 645,1379 621,1463 572,1178 977,950 578,1488 1063,1082 666,1345 675,1583 681,1611 510,1235 1171,1452 948,1167 1015,1361 746,1199 765,1035 644,1185 1112,1377 666,1350 677,1305 514,1324 976,1152 513,1502 861,1654 620,1452 533,1526 1848,724 483,1324 541,1237 631,1458 828,1185 413,1395 963,1575 632,1243 602,1529 528,1495 928,1250 467,1239 620,1434 511,1503 1358,1216 501,1422 709,1182 574,1353 1314,1153 796,1095 487,1509 733,1361 611,1433 825,1044 629,1462 561,1300 596,1592 705,1096 1432,914 591,1411 1398,1022 581,1605 879,1017 780,1282 772,1471 594,1339 744,1693 1048,1407 629,1685 588,1407 505,1497 830,1109 742,1276 570,1557 600,1097 777,1260 1270,1207 651,1354 575,1356 1289,1471 595,1254 502,1451 1133,1247 528,1419 721,1483 477,1206 634,1177 601,1482 543,1062 649,1403 791,1610 507,1612 550,1591 890,1073 531,1422 933,1154 1458,694 1026,1104 509,1612 1070,1419 761,996 808,1603 480,1482 772,1291 554,1141 1446,836 1036,1020 513,1663 671,1370 986,1496 1113,1167 949,1138 847,1413 504,1046 742,1350 1477,980 506,1295 710,1378 900,1173 919,1632 528,1244 542,1156 752,914 490,1147 1190,1430 536,1349 530,1245 774,1169 808,1144 631,1079 1451,824 572,1173 1102,1163 1383,919 636,1259 638,1038 929,1337 608,1295 584,1512 501,1558 1000,1486 496,1465 539,1205 984,890 518,1144 503,1344 717,942 954,1506 534,1641 606,1071 552,1327 498,1316 831,1108 532,1331 867,1095 607,1209 1000,1420 1006,1248 1562,1257 518,1162 556,1455 1052,1405 656,1663 964,872 517,1337 879,1621 591,1447 747,1414 633,1324 1294,1378 597,1099 497,1222 525,1304 625,1187 634,1280 683,1046 520,1487 922,1331 815,1143 779,1425 615,1219 734,1491 1661,1621 649,1398 662,1359 600,1399 967,1519 547,1515 574,1366 485,1541 822,1379 926,943 850,1189 594,1242 647,1382 1263,1430 1186,1054 935,1357 520,1425 613,1523 773,1295 600,1411 684,1056 613,1211 823,1330 981,1539 591,1166 556,1423 716,1215 789,1573 646,1034 811,1614 844,1199 868,1207 444,1437 984,1655 658,1487 839,1265 709,1055 1140,1067 696,1133 521,1021 751,1408 741,1329 619,1322 933,1387 551,1345 685,1547 675,1512 661,1437 714,1132 659,1446 1088,1234 691,1361 554,1090 535,1694 512,1356 870,959 775,1296 685,1379 755,1258 481,1361 632,1308 883,1293 576,1501 1461,1151 992,1271 522,1386 590,1155 464,1276 523,1525 520,1392 647,1309 647,1485 470,1279 731,1470 843,1243 1198,971 888,1639 522,1401 516,1409 1341,1472 604,1176 1600,1118 1047,1145 850,1259 591,1151 1006,1335 635,1205 846,956 1036,881 812,1148 693,1199 1697,1275 686,1660 542,1349 706,1376 689,1362 1227,1173 631,1073 1429,1119 1448,761 615,1345 715,1504 1148,925 1247,766 499,1234 748,1681 746,1649 485,1377 838,980 845,1262 544,1357 1137,1127 701,1191 604,1525 573,1497 641,1033 660,1219 1040,1422 645,1277 1069,968 544,1322 621,1477 630,1504 1023,958 511,1628 592,1149 826,1350 765,1114 514,1399 801,1000 635,1257"/>
<polyline fill="none" stroke="none" marker-start="url(#m)" marker-mid="url(#m)" marker-end="url(#m)" points="712,1174 632,1383 475,1510 591,1372 601,1514 544,1068 545,1349 1366,1575 856,1287 625,1140 737,1697 1010,1384 772,1242 644,1194 563,1345 503,1392 673,1631 1462,892 702,1131 724,1383 873,949 1208,751 1880,867 979,1443 618,1417 481,1415 820,1276 1474,1087 1231,1054 580,1378 556,1575 586,1345 582,1279 1463,1091 892,1018 491,1322 1262,1151 599,1331 610,1007 606,1155 648,1629 684,1253 943,1668 483,1543 553,1306 662,1617 1879,877 747,1669 572,1231 601,1306 1099,1115 488,1385 619,1336 1013,1178 506,1111 930,1011 551,1451 775,1166 687,1521 856,1448 808,1578 1074,864 889,1591 1179,1187 644,1486 935,1504 1373,808 696,1057 783,1445 1076,983 744,1024 532,1410 517,1393 703,1378 594,1375 706,1500 1132,1202 836,1170 622,1179 1352,848 589,1404 620,1385 705,1637 1030,935 786,1621 774,1026 648,1235 635,1347 1051,1396 763,1252 751,1025 600,1106 808,1277 451,1595 644,1247 546,1463 573,1179 1040,735 664,1436 763,1347 1035,1011 738,1114 649,1640 638,1079 552,1440 508,1710 643,1337 960,1079 753,1548 617,1247 708,1207 547,1525 660,1305 1354,1118 1333,727 1020,1369 435,1455 849,1596 476,1333 530,1444 1293,1064 428,1319 624,1351 539,1275 1137,1474 566,1200 1683,1130 473,1260 1123,1239 650,1458 660,1202 519,1466 481,1399 557,1511 851,1160 788,1204 676,1369 592,1447 1174,1041 1345,1410 500,1468 872,1437 980,1030 762,1233 546,1270 814,1388 1382,1088 483,1323 665,1427 597,1473 1027,1297 593,1133 1225,1119 501,1332 502,1396 607,1511 518,941 827,1201 698,1222 783,1536 673,1339 1483,1083 1291,940 528,1204 557,1253 574,1458 509,1278 1017,1187 1303,1553 828,1313 564,1245 617,1592 800,1560 812,1351 1106,1016 580,1553 770,1265 635,1219 600,1295 1402,1660 502,1037 731,1162 533,1165 897,1034 469,1279 1076,923 736,1114 526,1477 894,1333 478,1313 597,1436 1076,955 584,1240 497,1264 674,1379 610,1023 484,1439 815,1437 602,1306 480,1241 488,1351 984,1396 624,1444 583,1343 1259,1498 1066,978 826,956 885,842 835,1035 497,1370 1398,944 593,1352 828,1017 754,1337 570,1384 509,1357 704,1334 725,1513 582,1320 537,1191 512,1401 552,1258 1702,1238 1052,1338 572,1094 935,1616 638,1377 535,1708 526,1313 727,1033 637,1316 464,1124 946,1160 625,1208 596,1412 755,1271 746,1622 739,1057 702,1475 720,1209 704,1086 1638,1407 1433,861 880,1532 451,1466 577,1215 726,1393 582,1411 460,1337 653,1269 520,1536 483,1200 540,1396 470,1127 819,1357 573,1381 669,1294 644,1275 1014,1375 1279,1131 512,1321 555,1420 573,1533 680,1187 719,1135 892,1313 684,1658 710,1270 594,1212 774,1012 775,1276 823,1516 753,1098 490,1226 687,1318 483,1343 671,1657 921,1240 655,1439 896,1198 644,1453 642,1332 573,1553 474,1391 693,1351 649,1069 493,1338 1216,821 558,1419 988,1203 508,1207 473,1365 736,1290 1322,1001 1398,1303 649,1261 862,1165 866,1036 630,1268 1111,1188 583,1204 491,1415 659,1116 563,1538 536,1523 1138,897 526,1132 626,974 581,1237 576,1211 864,953 751,1277 620,1229 394,1270 768,1243 478,1470 1107,843 727,1219 1220,1276 680,1417 976,1051 673,1651 1223,1346 780,1189 572,1152 449,1167 1135,1083 813,1163 658,1525 504,1418 1551,839 1445,1524 459,1396 459,1116 1442,889 517,1683 482,1492 1416,1428 1471,1487 826,1096 640,1436 631,851 501,1407 1358,1159 555,1433 869,1138 505,1314 753,1254 618,1129 496,1494 623,1347 1469,1123 1193,1154 626,1428 567,1649 627,1335 550,1451 649,1291 688,1507 700,1306 910,1127 1594,1237 571,1310 1195,1364 1298,1084 985,1125 792,1551 1567,752 664,1154 539,1491 541,1285 709,1153 949,888 836,1276 745,1290 921,905 564,1421 819,986 751,1166 787,1645 1619,1017 520,1643 757,1428 818,1054 535,1544 842,1476 546,1426 745,1162 684,1160 647,1311 1175,859 689,1381 830,1234 669,1316 528,1513 525,1581 1060,1434 974,1210 844,1297 645,1164"/>
<polyline fill="none" stroke="none" marker-start="url(#m)" marker-mid="url(#m)" marker-end="url(#m)" points="642,1036 580,1228 887,926 512,1531 1475,905 653,1242 950,1574 1214,1560 514,1233 1193,1378 623,1161 474,1221 546,1407 576,1192 1489,1060 620,984 595,1179 731,1336 1239,1396 622,1667 481,1191 545,1331 862,1449 1463,782 504,1072 516,1608 1885,1166 1032,1226 845,1158 845,1238 488,1211 809,1146 510,1160 1564,1132 531,1298 1071,1244 883,1391 1196,844 509,1132 847,1169 610,1195 903,1163 1584,1064 1109,964 751,1039 918,1276 664,1689 579,1253 469,1393 1600,1640 1032,1385 930,1108 524,1171 471,1166 820,1286 493,1145 855,929 591,1584 563,1640 660,1280 605,1602 1286,844 504,1398 783,1271 690,1367 837,1330 535,1554 878,1219 685,1090 1044,1568 1173,1612 786,1606 708,1245 585,1449 655,1183 546,1385 628,1145 507,1335 587,1231 604,1489 825,1113 843,1035 561,1575 1397,793 837,1467 793,1709 720,1497 986,1125 689,1444 749,844 493,1380 933,1068 571,1405 924,1068 600,1126 946,1218 869,1378 821,971 743,1008 521,1075 651,1142 1651,1190 667,1412 546,1306 1220,986 737,1118 630,1544 499,1695 583,1284 598,1419 513,1254 884,1127 458,1403 1328,1130 1149,1034 703,1217 861,1414 517,1163 717,1242 566,1224 855,1644 716,1383 639,945 571,1561 604,1339 608,1542 1243,760 1145,1468 509,1200 975,1471 549,1330 986,1203 462,1504 525,1314 703,1019 1774,1454 617,1061 567,1490 634,1600 718,1286 612,1190 672,1379 1185,1163 799,1268 655,1544 485,1473 826,1403 982,1235 1341,863 725,1388 655,1286 643,1184 515,1424 794,1189 573,1406 799,1185 830,1469 823,1419 707,1708 508,1244 876,1268 712,1354 953,1106 908,1153 519,1304 1053,1137 775,1629 1270,1307 583,1302 478,1374 1141,960 913,1318 572,1258 497,1643 489,1473 1415,1363 716,1299 743,998 614,1330 1008,1305 591,1413 647,1396 633,1516 660,1160 512,1298 731,1127 574,1474 662,1204 634,1284 849,1184 1302,1575 1114,700 794,1249 650,1373 774,1237 505,1206 745,1234 669,1501 625,1303 566,1263 851,1153 638,1585 871,1245 1680,1034 714,1541 712,1192 1076,1234 768,1235 612,1631 698,1227 877,1155 834,1404 550,1019 995,1024 1394,1121 1162,1010 651,1459 983,1602 948,1111 1495,1110 663,1172 903,1349 587,1401 595,1438 640,1309 571,1466 837,1288 583,1586 495,1623 526,1306 559,1267 527,1335 1341,711 1080,974 412,1318 735,1005 581,1277 498,1566 476,1366 740,1385 729,1361 759,1051 779,1189 661,879 942,1062 1596,1119 998,1183 537,1570 619,1468 973,1251 635,1134 1073,1296 812,1160 1044,1028 754,1311 797,1162 520,1669 1354,1076 705,1174 426,1486 515,1191 508,1657 556,1419 447,1317 605,1410 507,1457 778,1203 1874,1340 614,1324 633,1592 633,1299 436,1204 579,1299 1268,1030 509,1315 564,1137 779,1114 1369,1527 583,1323 835,1388 1127,1286 573,1305 497,1103 487,1210 666,1257 523,1501 654,1215 538,1099 717,1368 398,1317 575,1224 1125,1092 776,1673 1126,1074 494,1403 611,1336 629,1144 547,1449 828,1196 1027,1103 504,1460 847,1557 620,1213 537,1285 892,1651 496,1329 479,1393 578,1134 527,1300 484,1416 1022,778 521,1667 1045,1346 571,1417 1047,1605 489,1384 820,1121 1001,1043 749,1294 685,1422 811,1315 1607,1013 830,1234 1347,663 880,1081 622,1443 516,1104 555,1084 604,1270 1001,1174 729,1221 540,1392 612,1442 1148,1151 817,1229 1329,876 643,1252 548,1478 776,1354 976,1205 1227,820 523,1496 832,1496 593,1563 724,1596 754,1454 701,1159 833,1241 535,1303 421,1222 906,1241 449,1342 700,1573 578,1377 610,1193 561,1255 1178,1638 480,1439 774,1272 507,1570 1183,1164 1040,1546 972,1031 1309,1126 552,1304 654,1177 960,1261 603,1173 544,1480 536,1268 560,1468 511,1391 683,1116 519,1591 815,1269 750,1132 491,1285 884,1346 1324,789 955,1037 827,1338 502,1530 502,1295 651,1387 956,1478 569,1492 890,1033 1753,754 785,1086 957,839 1518,808 787,1325 719,1219 689,1389 992,1345 581,1622 1586,716 1020,1156 787,1628 616,1376"/>
<polyline fill="none" stroke="none" marker-start="url(#m)" marker-mid="url(#m)" marker-end="url(#m)" points="917,1180 749,1243 544,1640 732,1127 1875,799 822,1315 702,1317 857,1043 602,1110 653,1501 520,1408 857,1121 558,1292 789,1277 1150,1040 709,1312 1285,1013 480,1390 1075,1213 486,1366 1254,849 492,1332 576,1470 636,1316 567,1453 818,984 612,1101 852,1503 743,1413 513,1402 521,1272 923,1379 852,1347 675,1303 626,1312 599,1318 803,1572 615,1233 743,1195 683,1645 1467,1553 636,1336 635,1057 596,1302 624,1124 507,1350 1090,1539 522,1600 578,1418 555,1476 1544,661 551,1464 575,908 1096,1201 774,1181 563,1528 643,1176 749,1237 490,1200 599,1356 901,1035 1274,1177 1379,859 546,1680 835,1295 592,1328 475,1372 839,1358 738,1530 875,1252 1072,1076 831,1517 777,1152 582,1355 1445,791 643,1433 542,1547 671,1134 874,1525 1281,1066 582,1456 810,1519 695,1664 618,1359 513,1451 667,1135 510,1405 1229,677 618,1341 517,1242 542,1130 492,1313 1241,1423 1086,1609 495,1314 1084,1549 565,1310 1124,886 1216,821 1183,1304 760,1360 855,1258 940,1295 534,1459 1146,1422 860,1080 762,1600 717,1441 525,1510 767,1265 755,1384 540,1431 500,1218 1314,988 687,1665 1525,997 544,1420 645,1185 570,1279 574,1280 785,1136 548,1514 682,1563 668,1281 675,1477 794,1435 516,1617 608,1402 548,1594 507,1277 799,1194 548,1123 1555,1286 744,1274 617,1006 769,1384 784,1484 1429,1539 799,1358 740,1235 1142,1155 851,1509 1659,630 536,1661 542,1504 846,1389 503,1488 904,1064 573,1405 627,1361 577,1347 816,1674 517,1263 696,1116 1758,1351 686,1442 493,1428 527,1474 624,1332 618,1413 894,870 483,1261 542,1439 685,1214 730,1056 1047,1419 638,1309 941,1364 823,1450 619,1345 892,1301 769,1379 1336,972 705,1402 716,1499 510,1395 739,931 566,905 1147,1392 708,1410 1359,1596 871,1058 698,1246 492,1381 670,1181 477,1190 617,1382 1052,878 711,1131 1086,1451 535,1175 768,1321 647,1200 638,1044 593,1151 556,1311 578,1321 679,911 697,1218 510,1591 836,1350 452,1402 539,1189 871,1193 819,1520 554,1417 611,1373 825,1314 1058,1191 718,1235 981,957 717,1271 739,1240 529,1664 1074,1148 775,1423 746,1413 683,998 552,1342 791,1245 523,1172 696,1260 654,1096 1312,1185 691,1330 554,1258 945,964 475,1205 521,1441 785,1457 503,1453 589,1683 947,1181 692,1201 816,1110 565,1531 1080,1078 592,1392 577,1168 481,1349 769,1644 625,1308 788,1192 495,1100 472,1208 921,1653 1075,1304 489,1186 535,1183 476,1060 675,1206 639,1507 972,1564 595,1123 750,1330 1364,779 874,1204 535,1098 429,1147 747,1022 1674,1621 848,1130 936,1434 645,1277 543,1355 658,1515 794,1329 481,1238 676,1017 535,1670 935,1179 670,1333 730,1296 573,1577 1324,519 868,1305 1166,1369 874,1377 774,1052 527,1349 1109,1255 454,1210 904,1239 700,1241 1159,1127 597,1208 1139,956 459,1261 1099,1013 1707,808 586,1308 852,1506 601,1413 537,1251 512,1307 876,1262 642,1065 1794,678 484,1555 467,1341 561,1582 793,1671 589,1270 468,1296 1157,1581 663,1375 527,1444 587,1244 687,1309 770,1403 649,1362 615,1026 995,1164 623,1265 1212,1261 546,1220 1373,1462 520,1695 530,1485 497,1413 648,1393 1041,1194 678,1219 1187,943 568,1612 838,1259 759,1388 647,1581 1169,873 588,1587 598,1139 718,1268 501,1587 472,1184 767,1042 1240,1214 790,1482 483,1398 816,1155 661,1361 665,1457 676,1135 581,1357 711,1178 1142,1142 700,1324 784,1337 533,1358 1024,812 533,1598 662,1628 646,1183 733,1256 495,1045 679,1329 1204,1258 761,1100 671,1084 644,1146 1343,1137 522,1487 1129,1004 1022,1149 592,979 545,1054 579,1468 469,1179 671,1328 659,1156 773,1312 1001,1168 671,1357 674,1676 544,1267 1139,1386 1410,1026 648,1494 631,1310 909,1023 821,1283 572,1178 1124,899 571,1498 525,1544 645,1413 1029,982 768,1185 671,1635 617,1391 486,1222 723,1271 1010,882 818,1616 683,1542 518,1109 464,1604 481,1317 637,1311 610,1145 913,1421"/>
<polyline fill="none" stroke="none" marker-start="url(#m)" marker-mid="url(#m)" marker-end="url(#m)" points="700,1187 825,1419 1711,880 1634,1282 514,1221 565,1368 1788,1102 687,1264 541,1216 512,1082 510,1234 581,1478 769,1127 654,1279 516,1281 1549,871 667,1091 911,1348 834,1201 1071,1095 763,1003 843,997 626,1421 1047,1574 1070,1201 906,1179 460,1351 561,1683 550,1305 1341,1521 816,1506 571,1680 549,1164 663,1270 532,1370 1167,957 934,1492 1235,1225 708,1224 652,1313 679,1554 628,1396 563,1479 934,1467 1107,1013 845,1486 603,1377 1190,1081 804,1180 895,1497 1005,1409 982,1181 836,891 653,1544 523,1606 984,1332 596,1240 636,1182 1599,1526 562,1322 873,1075 988,1206 638,1141 644,1144 1183,809 810,1531 694,1096 603,1146 1822,917 640,1097 622,1226 781,1680 711,1278 803,1370 539,1302 1029,1125 898,1114 815,1372 747,1518 670,1543 1072,1250 1026,1332 477,1300 587,1167 723,1155 565,1184 1164,850 725,1023 651,1348 1261,1447 620,1353 695,1112 529,1568 508,1412 561,1609 599,1393 1073,1010 542,1360 513,1273 549,1453 856,1053 668,1545 591,1477 478,1284 853,1424 719,1287 733,919 965,1251 500,1101 1352,1410 683,1496 552,1215 1121,1030 519,1460 807,1506 580,1175 1020,969 1031,1098 562,1427 823,1611 1791,1355 624,1218 745,1206 731,1092 620,1468 574,1510 538,1270 1234,700 928,1188 653,1339 663,1305 604,1498 927,1389 580,1419 817,974 1059,1580 1868,901 842,1101 501,1469 1536,1336 589,1221 990,1416 990,1274 543,1375 1170,1395 675,1326 809,1228 1050,1027 501,1164 1760,587 667,1707 978,964 690,1187 778,1170 1283,1222 505,1228 617,1549 1151,772 602,1510 578,1220 648,1169 528,1358 980,1084 499,1506 772,1476 1198,1179 498,1656 692,1244 534,1465 724,1173 500,1259 865,1522 1283,916 613,1355 792,1065 1251,1246 817,1334 608,1192 1097,1393 1791,1029 1347,984 1394,1034 576,1694 592,1150 579,1191 866,1418 519,1292 622,1345 959,1201 594,1196 721,1286 711,1126 964,1142 598,1218 599,1226 634,1295 573,1376 521,1411 487,1497 620,1008 1320,972 632,1437 829,1154 748,1162 632,1663 1041,814 780,1580 571,1168 532,1671 629,1274 697,1237 718,1069 705,1400 558,1165 1785,1658 695,1291 1188,1269 664,1313 529,1181 827,1545 982,1499 669,1230 682,1271 713,1341 508,1429 725,1306 605,986 518,1500 1154,996 634,1223 550,1165 526,1099 736,1588 560,1450 479,1440 1147,1294 764,915 1254,1229 927,1495 697,1270 582,1291 1432,1222 1523,839 575,1286 512,1255 871,1267 729,994 519,1469 554,1413 1515,1170 607,1125 1369,981 564,1584 574,1589 806,1222 788,1506 562,1268 583,1245 584,1632 763,1349 646,1076 744,1160 678,1377 557,1368 518,1455 1581,1138 488,1537 480,1317 556,1383 557,1490 831,1273 761,1143 566,1598 719,1346 436,1409 771,1175 1145,845 485,1335 637,1308 837,1672 810,1639 515,1697 661,1135 686,1603 544,1210 602,1138 1725,1293 576,1390 1509,669 530,1317 667,1305 638,1352 683,1281 719,1117 964,1053 1195,1017 742,1123 631,1314 741,1378 686,1219 752,1639 681,1444 557,1115 622,1437 1510,1214 524,1296 978,778 616,1386 983,1020 1180,1007 780,1087 530,1690 761,1657 565,1153 541,1140 844,1574 782,1088 471,1386 570,1203 908,1253 1439,861 549,1559 555,1576 924,912 1492,635 755,1387 650,1280 441,1164 1002,847 557,1385 825,1388 643,1178 702,1410 520,1405 661,1431 830,1180 971,908 1151,1095 438,1354 640,1445 892,1395 1125,1109 489,1281 1105,1006 608,1286 1755,930 1028,1254 899,1066 856,1108 566,1197 913,1472 526,1556 695,1120 703,1151 1890,1274 794,1400 842,1339 1220,1311 780,1179 1351,1637 564,1506 784,1228 589,1664 1007,1474 640,1125 681,1431 692,1300 977,1383 594,1510 1233,1084 554,1494 727,1240 1270,1152 568,1404 680,1135 827,1574 516,1302 478,1267 516,1117 1026,980 751,966 538,1688 635,1100 871,1151 516,1561 1895,1006 615,1274 1792,861 453,1531 589,1264 703,1594 833,1047 411,1573 1031,1158 749,1237 510,1279 578,1149 690,1220 703,1454 665,1109"/>
<polyline fill="none" stroke="none" marker-start="url(#m)" marker-mid="url(#m)" marker-end="url(#m)" points="582,1137 756,1233 591,1250 1106,857 473,1402 1139,1178 781,1366 507,1618 477,1266 948,844 875,1115 658,1229 818,1197 542,1489 659,1268 493,1429 685,1129 948,1064 640,1223 608,1497 596,1072 611,1376 686,1244 571,1457 1220,996 505,1151 610,1367 1067,997 542,1432 1496,689 921,1155 1168,866 773,1270 1131,1204 501,1203 659,1206 1114,1028 561,1299 601,1437 1192,1638 789,964 600,1237 601,988 784,1355 546,1317 859,1261 585,1164 592,1400 544,1199 528,1544 692,1316 1246,1386 1181,1299 575,1098 848,1589 674,1186 825,1072 581,1579 1870,794 569,1167 740,1174 430,1207 594,926 561,1124 561,1281 578,1138 798,1359 533,1257 579,1121 777,1684 758,1459 613,1365 538,1182 615,1257 668,1117 489,1182 559,1277 597,1413 730,1199 491,1570 1147,1183 1081,835 797,1240 484,1416 552,1315 948,1120 540,934 1740,582 558,1433 588,883 643,1170 980,1522 871,1169 439,1290 969,1101 518,1038 611,1191 672,1337 649,1112 1081,1519 675,1171 605,1385 649,1288 514,1151 1005,1154 538,1180 775,1190 814,1212 515,1634 929,1336 992,1017 621,1176 515,1214 962,980 503,1523 1552,880 498,1289 528,1211 601,1305 480,1217 629,1051 572,1068 812,1381 630,1246 605,1001 738,1267 868,1036 470,1555 1191,1600 1094,958 714,1328 713,1117 837,1070 1681,545 559,1097 502,1594 603,1414 1422,1280 761,1391 525,1326 824,1641 955,873 597,1445 864,1511 590,1354 467,1372 521,1558 1063,756 495,1252 1113,1016 581,1561 944,1593 593,1515 717,1257 691,996 514,1287 478,1278 712,1190 962,1064 603,1293 647,1024 613,1282 999,890 1113,1413 480,1236 766,1385 920,1064 473,1284 682,1553 547,1699 499,1541 518,1431 1312,851 686,1447 1177,1160 479,1034 564,1386 656,1153 507,1452 500,1435 545,1163 599,1450 1288,1114 1044,1489 528,1579 1060,1114 554,1310 558,1545 540,1230 862,1202 648,1240 599,1520 1802,771 747,1276 594,1396 783,1474 487,1225 947,1585 650,1450 597,1492 590,1321 683,1355 1509,1366 1773,1363 876,1294 605,1528 868,1165 525,1314 838,1365 1441,1089 807,1157 659,1210 1568,727 999,1255 518,1418 695,1614 808,1273 675,1452 496,1493 553,1231 561,1280 654,1287 619,1316 724,1458 513,1258 1382,1215 1029,1174 660,1156 1316,1002 709,1591 472,1378 758,1053 575,1404 711,1413 467,1319 715,1565 631,1553 984,1194 1075,839 495,1460 541,1183 1530,1624 680,1173 788,1014 566,1264 578,1434 519,1226 849,1281 739,1377 763,1305 902,1087 601,1191 772,1478 667,871 763,1666 457,1411 545,1469 1187,1319 757,1159 1093,968 1545,1216 593,1217 754,1043 1006,1447 625,983 741,1331 526,1609 502,1146 692,1172 615,1159 947,1307 682,1356 469,1409 571,1172 615,1452 667,1374 523,1127 866,1234 554,1344 773,1122 634,1211 503,1188 934,1314 532,1090 562,1057 828,1048 780,1392 909,1226 546,1279 535,1418 665,1211 530,1564 532,1310 717,1252 537,1091 563,1214 496,1413 593,1018 745,1306 725,1598 641,1027 588,1278 699,1098 652,1566 524,1399 603,1213 436,1327 1533,1313 672,1642 619,1538 1666,1160 589,1254 1027,1078 652,1362 480,1467 888,1427 849,1511 1194,1638 583,1423 638,1200 2206,141 2447,165 2280,261 2312,279 2454,268 2132,295 2124,386 2107,397 2376,354 2482,356 2489,368 2397,420 2436,419 2532,420 2245,455 2386,497 2457,509 2691,322 2691,479 2801,275 2921,309 2996,240 3035,243 3067,321 3414,113 2132,526 2451,536 2493,572 2114,590 2383,609 2528,607 2224,673 2429,691 2485,691 2610,705 2341,714 2344,717 2185,732 2189,734 2153,768 2149,788 2202,800 2277,786 2550,792 2550,806 2135,841 2178,858 2170,884 2224,878 2274,886 2348,895 2635,892 2128,909 2458,933 2281,995 2380,988 2790,538 2829,517 2907,528 2989,716 3286,936 3336,918 3796,811 2458,1012 2458,1012 2195,1002 2135,1019 2117,1074 2121,1113 2167,1107 2234,1097 2536,1113 2327,1168 2185,1211 2465,1252 2564,1273 2185,1284 2352,1332 2312,1380 2164,1387"/>
<polyline fill="none" stroke="none" marker-start="url(#m)" marker-mid="url(#m)" marker-end="url(#m)" points="2142,1462 2564,1457 2861,1146 2897,1343 3332,1446 2125,1511 2185,1505 2149,1627 577,222 935,244 850,274 481,349 920,390 821,468 538,491 545,552 839,542 924,555 913,577 1069,563 1201,570 560,610 790,607 772,630 1122,603 924,653 481,661 467,678 538,666 595,661 520,711 513,727 644,754 545,780 588,786 563,797 535,814 528,822 467,847 534,849 414,883 467,888 482,904 502,899 435,931 2050,114 1933,188 1944,214 2072,240 1664,316 1778,341 1954,334 1912,353 1916,356 1929,378 1958,378 1749,384 2004,405 2061,411 1572,420 1880,425 1830,434 1721,455 1660,465 1667,483 1753,475 1838,469 1969,465 1575,505 1951,528 2068,533 1948,556 2008,550 2086,567 1983,586 1958,600 1944,619 2018,615 2018,623 2014,637 2030,633 2031,636 2100,647 1923,650 1913,661 1919,668 1934,655 1940,655 1982,665 1980,669 2036,680 2068,677 1951,718 1997,753 1937,766 2075,757 2075,795 2085,789 2093,791 1941,826 1934,846 2075,828 2071,854 2086,865 2004,879 2004,889 1976,895 2043,892 2103,911 2089,931 2097,939 2043,951 2079,953 1934,961 1919,978 1919,988 2047,993 2103,987 2026,1023 1940,1034 1958,1048 2103,1036 2057,1055 1955,1084 1990,1088 2054,1107 1951,1200 1944,1220 2011,1206 2082,1236 1916,1271 1937,1292 2015,1298 2033,1310 2036,1306 2015,1342 1923,1375 1919,1385 2018,1379 2086,1397 2093,1478 1948,1532 2001,1545"/>
<line x1="386.4" y1="1375.4" x2="3796.2" y2="457.8" stroke="#0000ff" stroke-width="11.4"/>
<g stroke="#000" fill="none">
<line x1="215.8" y1="33.0" x2="215.8" y2="1796.8" stroke-width="6.2"/>
<line x1="215.8" y1="1796.8" x2="3966.9" y2="1796.8" stroke-width="6.2"/>
<line x1="199.1" y1="1793.7" x2="215.8" y2="1793.7" stroke-width="6.4"/>
<line x1="199.1" y1="1461.3" x2="215.8" y2="1461.3" stroke-width="6.4"/>
<line x1="199.1" y1="1128.8" x2="215.8" y2="1128.8" stroke-width="6.4"/>
<line x1="199.1" y1="796.4" x2="215.8" y2="796.4" stroke-width="6.4"/>
<line x1="199.1" y1="463.9" x2="215.8" y2="463.9" stroke-width="6.4"/>
<line x1="199.1" y1="131.5" x2="215.8" y2="131.5" stroke-width="6.4"/>
<line x1="828.4" y1="1796.8" x2="828.4" y2="1813.5" stroke-width="6.4"/>
<line x1="1891.0" y1="1796.8" x2="1891.0" y2="1813.5" stroke-width="6.4"/>
<line x1="2953.6" y1="1796.8" x2="2953.6" y2="1813.5" stroke-width="6.4"/>
</g>
<text class="t" transform="translate(185.4,1818.8) scale(1,1.035)" text-anchor="end">10</text>
<text class="t" transform="translate(185.4,1486.4) scale(1,1.035)" text-anchor="end">20</text>
<text class="t" transform="translate(185.4,1153.9) scale(1,1.035)" text-anchor="end">30</text>
<text class="t" transform="translate(185.4,821.5) scale(1,1.035)" text-anchor="end">40</text>
<text class="t" transform="translate(185.4,489.0) scale(1,1.035)" text-anchor="end">50</text>
<text class="t" transform="translate(185.4,156.6) scale(1,1.035)" text-anchor="end">60</text>
<text class="t" transform="translate(827.4,1876.0) scale(1,1.03)" text-anchor="middle">3</text>
<text class="t" transform="translate(1890.0,1876.0) scale(1,1.03)" text-anchor="middle">6</text>
<text class="t" transform="translate(2952.6,1876.0) scale(1,1.03)" text-anchor="middle">9</text>
<text class="l" transform="translate(2092,1953.0) scale(1,1.04)" text-anchor="middle">Distance (miles)</text>
<text class="l" transform="translate(80.8,914) rotate(-90) scale(1,1.04)" text-anchor="middle">Time Until Deliver (min)</text>
</svg></body></html>
